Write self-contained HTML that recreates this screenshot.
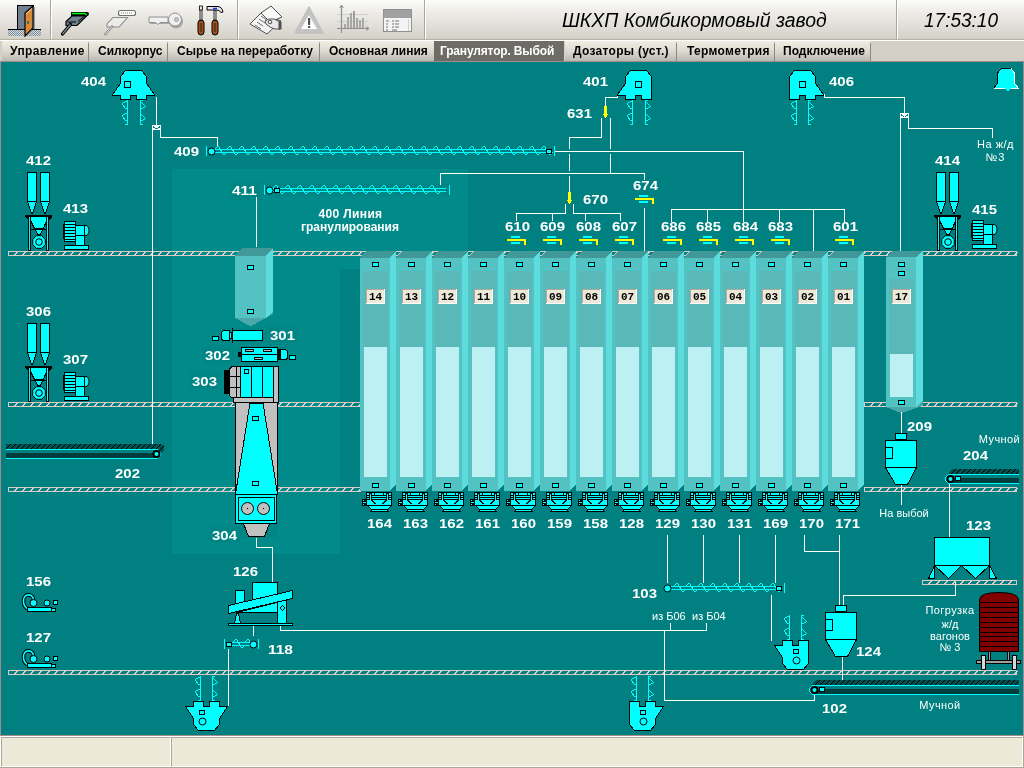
<!DOCTYPE html>
<html><head><meta charset="utf-8"><style>
html,body{margin:0;padding:0;width:1024px;height:768px;overflow:hidden;background:#d4d0c8;}
#tb{position:absolute;left:0;top:0;width:1024px;height:39px;background:linear-gradient(#fcfcfb,#f0efeb 25%,#d4d1c8);}
#tbl{position:absolute;left:0;top:39px;width:1024px;height:1px;background:#b6b2a6;}
#tbw{position:absolute;left:0;top:40px;width:1024px;height:1px;background:#fff;}
#tabs{position:absolute;left:0;top:41px;width:1024px;height:21px;background:#d4d0c8;}
.tab{position:absolute;top:41px;height:20px;background:linear-gradient(#f0eee2,#dddbd1 50%,#b9b8b1);font:bold 12px "Liberation Sans",sans-serif;color:#000;line-height:21px;white-space:nowrap;}
.tab.act{background:#6e6c66;color:#fff;}
.tsep{position:absolute;top:43px;width:1px;height:18px;background:#888884;}
#tbot{position:absolute;left:0;top:61px;width:1024px;height:1px;background:#9a8c8a;}
#sb{position:absolute;left:0;top:736px;width:1024px;height:32px;background:#fff;}
.sp{position:absolute;top:737px;height:30px;background:#ece9d8;border-top:1px solid #aca899;border-left:1px solid #aca899;border-bottom:1px solid #fff;border-right:1px solid #fff;box-sizing:border-box;}
#sbb{position:absolute;left:0;top:767px;width:1024px;height:1px;background:#aca899;}
#sbr{position:absolute;left:1023px;top:736px;width:1px;height:32px;background:#aca899;}
svg{position:absolute;left:0;top:0;will-change:transform;}
.tab span{will-change:transform;}
</style></head><body>
<div id="tb"></div><div id="tbl"></div><div id="tbw"></div>
<div id="tabs"></div>
<div class="tab" style="left:2px;width:86px"><span style="position:absolute;left:8px;letter-spacing:0.39px">Управление</span></div>
<div class="tab" style="left:89px;width:78px"><span style="position:absolute;left:9px;letter-spacing:0px">Силкорпус</span></div>
<div class="tab" style="left:168px;width:151px"><span style="position:absolute;left:9px;letter-spacing:0px">Сырье на переработку</span></div>
<div class="tab" style="left:320px;width:114px"><span style="position:absolute;left:9px;letter-spacing:0px">Основная линия</span></div>
<div class="tab act" style="left:434px;width:130px"><span style="position:absolute;left:5.5px;letter-spacing:-0.16px">Гранулятор. Выбой</span></div>
<div class="tab" style="left:565px;width:111px"><span style="position:absolute;left:7.5px;letter-spacing:0.29px">Дозаторы (уст.)</span></div>
<div class="tab" style="left:677px;width:97px"><span style="position:absolute;left:9.5px;letter-spacing:0.3px">Термометрия</span></div>
<div class="tab" style="left:775px;width:95px"><span style="position:absolute;left:8px;letter-spacing:0px">Подключение</span></div>
<div class="tsep" style="left:88px"></div>
<div class="tsep" style="left:167px"></div>
<div class="tsep" style="left:319px"></div>
<div class="tsep" style="left:676px"></div>
<div class="tsep" style="left:774px"></div>
<div class="tsep" style="left:870px"></div>
<div id="tbot"></div>
<div id="sb"></div>
<div class="sp" style="left:1px;width:170px"></div>
<div class="sp" style="left:171px;width:852px"></div>
<div id="sbb"></div><div id="sbr"></div>
<svg width="1024" height="768" viewBox="0 0 1024 768" shape-rendering="crispEdges">
<rect x="0" y="62" width="1024" height="674" fill="#008080" />
<rect x="0" y="62" width="1" height="674" fill="#a08c88" />
<rect x="1023" y="62" width="1" height="674" fill="#a08c88" />
<rect x="1" y="735" width="1022" height="1" fill="#a08c88" />
<rect x="172" y="169" width="168" height="385" fill="#008a89" />
<rect x="340" y="169" width="128" height="100" fill="#008a89" />
<rect x="227" y="179" width="36" height="22" fill="#008585" />
<rect x="227.5" y="179.5" width="35" height="21" fill="none" stroke="#008c8b" stroke-width="1"/>
<rect x="229.5" y="181.5" width="31" height="17" fill="none" stroke="#008c8b" stroke-width="1"/>
<rect x="265" y="324" width="35" height="22" fill="#008585" />
<rect x="265.5" y="324.5" width="34" height="21" fill="none" stroke="#008c8b" stroke-width="1"/>
<rect x="267.5" y="326.5" width="30" height="17" fill="none" stroke="#008c8b" stroke-width="1"/>
<rect x="201" y="344" width="36" height="22" fill="#008585" />
<rect x="201.5" y="344.5" width="35" height="21" fill="none" stroke="#008c8b" stroke-width="1"/>
<rect x="203.5" y="346.5" width="31" height="17" fill="none" stroke="#008c8b" stroke-width="1"/>
<rect x="187" y="370" width="36" height="22" fill="#008585" />
<rect x="187.5" y="370.5" width="35" height="21" fill="none" stroke="#008c8b" stroke-width="1"/>
<rect x="189.5" y="372.5" width="31" height="17" fill="none" stroke="#008c8b" stroke-width="1"/>
<rect x="207" y="524" width="36" height="22" fill="#008585" />
<rect x="207.5" y="524.5" width="35" height="21" fill="none" stroke="#008c8b" stroke-width="1"/>
<rect x="209.5" y="526.5" width="31" height="17" fill="none" stroke="#008c8b" stroke-width="1"/>
<rect x="263" y="184" width="188" height="12" fill="#008585" />
<rect x="220" y="328" width="44" height="15" fill="#008585" />
<rect x="237" y="346" width="52" height="17" fill="#008585" />
<rect x="234" y="524" width="43" height="14" fill="#008585" />
<rect x="8.5" y="251.5" width="1008" height="4" fill="none" stroke="#d8ccc4" stroke-width="1"/>
<path d="M14.5,255 L17.5,252 M22.5,255 L25.5,252 M30.5,255 L33.5,252 M38.5,255 L41.5,252 M46.5,255 L49.5,252 M54.5,255 L57.5,252 M62.5,255 L65.5,252 M70.5,255 L73.5,252 M78.5,255 L81.5,252 M86.5,255 L89.5,252 M94.5,255 L97.5,252 M102.5,255 L105.5,252 M110.5,255 L113.5,252 M118.5,255 L121.5,252 M126.5,255 L129.5,252 M134.5,255 L137.5,252 M142.5,255 L145.5,252 M150.5,255 L153.5,252 M158.5,255 L161.5,252 M166.5,255 L169.5,252 M174.5,255 L177.5,252 M182.5,255 L185.5,252 M190.5,255 L193.5,252 M198.5,255 L201.5,252 M206.5,255 L209.5,252 M214.5,255 L217.5,252 M222.5,255 L225.5,252 M230.5,255 L233.5,252 M238.5,255 L241.5,252 M246.5,255 L249.5,252 M254.5,255 L257.5,252 M262.5,255 L265.5,252 M270.5,255 L273.5,252 M278.5,255 L281.5,252 M286.5,255 L289.5,252 M294.5,255 L297.5,252 M302.5,255 L305.5,252 M310.5,255 L313.5,252 M318.5,255 L321.5,252 M326.5,255 L329.5,252 M334.5,255 L337.5,252 M342.5,255 L345.5,252 M350.5,255 L353.5,252 M358.5,255 L361.5,252 M366.5,255 L369.5,252 M374.5,255 L377.5,252 M382.5,255 L385.5,252 M390.5,255 L393.5,252 M398.5,255 L401.5,252 M406.5,255 L409.5,252 M414.5,255 L417.5,252 M422.5,255 L425.5,252 M430.5,255 L433.5,252 M438.5,255 L441.5,252 M446.5,255 L449.5,252 M454.5,255 L457.5,252 M462.5,255 L465.5,252 M470.5,255 L473.5,252 M478.5,255 L481.5,252 M486.5,255 L489.5,252 M494.5,255 L497.5,252 M502.5,255 L505.5,252 M510.5,255 L513.5,252 M518.5,255 L521.5,252 M526.5,255 L529.5,252 M534.5,255 L537.5,252 M542.5,255 L545.5,252 M550.5,255 L553.5,252 M558.5,255 L561.5,252 M566.5,255 L569.5,252 M574.5,255 L577.5,252 M582.5,255 L585.5,252 M590.5,255 L593.5,252 M598.5,255 L601.5,252 M606.5,255 L609.5,252 M614.5,255 L617.5,252 M622.5,255 L625.5,252 M630.5,255 L633.5,252 M638.5,255 L641.5,252 M646.5,255 L649.5,252 M654.5,255 L657.5,252 M662.5,255 L665.5,252 M670.5,255 L673.5,252 M678.5,255 L681.5,252 M686.5,255 L689.5,252 M694.5,255 L697.5,252 M702.5,255 L705.5,252 M710.5,255 L713.5,252 M718.5,255 L721.5,252 M726.5,255 L729.5,252 M734.5,255 L737.5,252 M742.5,255 L745.5,252 M750.5,255 L753.5,252 M758.5,255 L761.5,252 M766.5,255 L769.5,252 M774.5,255 L777.5,252 M782.5,255 L785.5,252 M790.5,255 L793.5,252 M798.5,255 L801.5,252 M806.5,255 L809.5,252 M814.5,255 L817.5,252 M822.5,255 L825.5,252 M830.5,255 L833.5,252 M838.5,255 L841.5,252 M846.5,255 L849.5,252 M854.5,255 L857.5,252 M862.5,255 L865.5,252 M870.5,255 L873.5,252 M878.5,255 L881.5,252 M886.5,255 L889.5,252 M894.5,255 L897.5,252 M902.5,255 L905.5,252 M910.5,255 L913.5,252 M918.5,255 L921.5,252 M926.5,255 L929.5,252 M934.5,255 L937.5,252 M942.5,255 L945.5,252 M950.5,255 L953.5,252 M958.5,255 L961.5,252 M966.5,255 L969.5,252 M974.5,255 L977.5,252 M982.5,255 L985.5,252 M990.5,255 L993.5,252 M998.5,255 L1001.5,252 M1006.5,255 L1009.5,252 M1014.5,255 L1017.5,252" stroke="#d8ccc4" stroke-width="1" fill="none"/>
<rect x="8.5" y="402.5" width="352" height="4" fill="none" stroke="#d8ccc4" stroke-width="1"/>
<path d="M14.5,406 L17.5,403 M22.5,406 L25.5,403 M30.5,406 L33.5,403 M38.5,406 L41.5,403 M46.5,406 L49.5,403 M54.5,406 L57.5,403 M62.5,406 L65.5,403 M70.5,406 L73.5,403 M78.5,406 L81.5,403 M86.5,406 L89.5,403 M94.5,406 L97.5,403 M102.5,406 L105.5,403 M110.5,406 L113.5,403 M118.5,406 L121.5,403 M126.5,406 L129.5,403 M134.5,406 L137.5,403 M142.5,406 L145.5,403 M150.5,406 L153.5,403 M158.5,406 L161.5,403 M166.5,406 L169.5,403 M174.5,406 L177.5,403 M182.5,406 L185.5,403 M190.5,406 L193.5,403 M198.5,406 L201.5,403 M206.5,406 L209.5,403 M214.5,406 L217.5,403 M222.5,406 L225.5,403 M230.5,406 L233.5,403 M238.5,406 L241.5,403 M246.5,406 L249.5,403 M254.5,406 L257.5,403 M262.5,406 L265.5,403 M270.5,406 L273.5,403 M278.5,406 L281.5,403 M286.5,406 L289.5,403 M294.5,406 L297.5,403 M302.5,406 L305.5,403 M310.5,406 L313.5,403 M318.5,406 L321.5,403 M326.5,406 L329.5,403 M334.5,406 L337.5,403 M342.5,406 L345.5,403 M350.5,406 L353.5,403 M358.5,406 L361.5,403" stroke="#d8ccc4" stroke-width="1" fill="none"/>
<rect x="864.5" y="402.5" width="152" height="4" fill="none" stroke="#d8ccc4" stroke-width="1"/>
<path d="M870.5,406 L873.5,403 M878.5,406 L881.5,403 M886.5,406 L889.5,403 M894.5,406 L897.5,403 M902.5,406 L905.5,403 M910.5,406 L913.5,403 M918.5,406 L921.5,403 M926.5,406 L929.5,403 M934.5,406 L937.5,403 M942.5,406 L945.5,403 M950.5,406 L953.5,403 M958.5,406 L961.5,403 M966.5,406 L969.5,403 M974.5,406 L977.5,403 M982.5,406 L985.5,403 M990.5,406 L993.5,403 M998.5,406 L1001.5,403 M1006.5,406 L1009.5,403 M1014.5,406 L1017.5,403" stroke="#d8ccc4" stroke-width="1" fill="none"/>
<rect x="8.5" y="487.5" width="352" height="4" fill="none" stroke="#d8ccc4" stroke-width="1"/>
<path d="M14.5,491 L17.5,488 M22.5,491 L25.5,488 M30.5,491 L33.5,488 M38.5,491 L41.5,488 M46.5,491 L49.5,488 M54.5,491 L57.5,488 M62.5,491 L65.5,488 M70.5,491 L73.5,488 M78.5,491 L81.5,488 M86.5,491 L89.5,488 M94.5,491 L97.5,488 M102.5,491 L105.5,488 M110.5,491 L113.5,488 M118.5,491 L121.5,488 M126.5,491 L129.5,488 M134.5,491 L137.5,488 M142.5,491 L145.5,488 M150.5,491 L153.5,488 M158.5,491 L161.5,488 M166.5,491 L169.5,488 M174.5,491 L177.5,488 M182.5,491 L185.5,488 M190.5,491 L193.5,488 M198.5,491 L201.5,488 M206.5,491 L209.5,488 M214.5,491 L217.5,488 M222.5,491 L225.5,488 M230.5,491 L233.5,488 M238.5,491 L241.5,488 M246.5,491 L249.5,488 M254.5,491 L257.5,488 M262.5,491 L265.5,488 M270.5,491 L273.5,488 M278.5,491 L281.5,488 M286.5,491 L289.5,488 M294.5,491 L297.5,488 M302.5,491 L305.5,488 M310.5,491 L313.5,488 M318.5,491 L321.5,488 M326.5,491 L329.5,488 M334.5,491 L337.5,488 M342.5,491 L345.5,488 M350.5,491 L353.5,488 M358.5,491 L361.5,488" stroke="#d8ccc4" stroke-width="1" fill="none"/>
<rect x="864.5" y="487.5" width="152" height="4" fill="none" stroke="#d8ccc4" stroke-width="1"/>
<path d="M870.5,491 L873.5,488 M878.5,491 L881.5,488 M886.5,491 L889.5,488 M894.5,491 L897.5,488 M902.5,491 L905.5,488 M910.5,491 L913.5,488 M918.5,491 L921.5,488 M926.5,491 L929.5,488 M934.5,491 L937.5,488 M942.5,491 L945.5,488 M950.5,491 L953.5,488 M958.5,491 L961.5,488 M966.5,491 L969.5,488 M974.5,491 L977.5,488 M982.5,491 L985.5,488 M990.5,491 L993.5,488 M998.5,491 L1001.5,488 M1006.5,491 L1009.5,488 M1014.5,491 L1017.5,488" stroke="#d8ccc4" stroke-width="1" fill="none"/>
<rect x="8.5" y="670.5" width="1008" height="4" fill="none" stroke="#d8ccc4" stroke-width="1"/>
<path d="M14.5,674 L17.5,671 M22.5,674 L25.5,671 M30.5,674 L33.5,671 M38.5,674 L41.5,671 M46.5,674 L49.5,671 M54.5,674 L57.5,671 M62.5,674 L65.5,671 M70.5,674 L73.5,671 M78.5,674 L81.5,671 M86.5,674 L89.5,671 M94.5,674 L97.5,671 M102.5,674 L105.5,671 M110.5,674 L113.5,671 M118.5,674 L121.5,671 M126.5,674 L129.5,671 M134.5,674 L137.5,671 M142.5,674 L145.5,671 M150.5,674 L153.5,671 M158.5,674 L161.5,671 M166.5,674 L169.5,671 M174.5,674 L177.5,671 M182.5,674 L185.5,671 M190.5,674 L193.5,671 M198.5,674 L201.5,671 M206.5,674 L209.5,671 M214.5,674 L217.5,671 M222.5,674 L225.5,671 M230.5,674 L233.5,671 M238.5,674 L241.5,671 M246.5,674 L249.5,671 M254.5,674 L257.5,671 M262.5,674 L265.5,671 M270.5,674 L273.5,671 M278.5,674 L281.5,671 M286.5,674 L289.5,671 M294.5,674 L297.5,671 M302.5,674 L305.5,671 M310.5,674 L313.5,671 M318.5,674 L321.5,671 M326.5,674 L329.5,671 M334.5,674 L337.5,671 M342.5,674 L345.5,671 M350.5,674 L353.5,671 M358.5,674 L361.5,671 M366.5,674 L369.5,671 M374.5,674 L377.5,671 M382.5,674 L385.5,671 M390.5,674 L393.5,671 M398.5,674 L401.5,671 M406.5,674 L409.5,671 M414.5,674 L417.5,671 M422.5,674 L425.5,671 M430.5,674 L433.5,671 M438.5,674 L441.5,671 M446.5,674 L449.5,671 M454.5,674 L457.5,671 M462.5,674 L465.5,671 M470.5,674 L473.5,671 M478.5,674 L481.5,671 M486.5,674 L489.5,671 M494.5,674 L497.5,671 M502.5,674 L505.5,671 M510.5,674 L513.5,671 M518.5,674 L521.5,671 M526.5,674 L529.5,671 M534.5,674 L537.5,671 M542.5,674 L545.5,671 M550.5,674 L553.5,671 M558.5,674 L561.5,671 M566.5,674 L569.5,671 M574.5,674 L577.5,671 M582.5,674 L585.5,671 M590.5,674 L593.5,671 M598.5,674 L601.5,671 M606.5,674 L609.5,671 M614.5,674 L617.5,671 M622.5,674 L625.5,671 M630.5,674 L633.5,671 M638.5,674 L641.5,671 M646.5,674 L649.5,671 M654.5,674 L657.5,671 M662.5,674 L665.5,671 M670.5,674 L673.5,671 M678.5,674 L681.5,671 M686.5,674 L689.5,671 M694.5,674 L697.5,671 M702.5,674 L705.5,671 M710.5,674 L713.5,671 M718.5,674 L721.5,671 M726.5,674 L729.5,671 M734.5,674 L737.5,671 M742.5,674 L745.5,671 M750.5,674 L753.5,671 M758.5,674 L761.5,671 M766.5,674 L769.5,671 M774.5,674 L777.5,671 M782.5,674 L785.5,671 M790.5,674 L793.5,671 M798.5,674 L801.5,671 M806.5,674 L809.5,671 M814.5,674 L817.5,671 M822.5,674 L825.5,671 M830.5,674 L833.5,671 M838.5,674 L841.5,671 M846.5,674 L849.5,671 M854.5,674 L857.5,671 M862.5,674 L865.5,671 M870.5,674 L873.5,671 M878.5,674 L881.5,671 M886.5,674 L889.5,671 M894.5,674 L897.5,671 M902.5,674 L905.5,671 M910.5,674 L913.5,671 M918.5,674 L921.5,671 M926.5,674 L929.5,671 M934.5,674 L937.5,671 M942.5,674 L945.5,671 M950.5,674 L953.5,671 M958.5,674 L961.5,671 M966.5,674 L969.5,671 M974.5,674 L977.5,671 M982.5,674 L985.5,671 M990.5,674 L993.5,671 M998.5,674 L1001.5,671 M1006.5,674 L1009.5,671 M1014.5,674 L1017.5,671" stroke="#d8ccc4" stroke-width="1" fill="none"/>
<rect x="922.5" y="580.5" width="94" height="4" fill="none" stroke="#d8ccc4" stroke-width="1"/>
<path d="M928.5,584 L931.5,581 M936.5,584 L939.5,581 M944.5,584 L947.5,581 M952.5,584 L955.5,581 M960.5,584 L963.5,581 M968.5,584 L971.5,581 M976.5,584 L979.5,581 M984.5,584 L987.5,581 M992.5,584 L995.5,581 M1000.5,584 L1003.5,581 M1008.5,584 L1011.5,581" stroke="#d8ccc4" stroke-width="1" fill="none"/>
<polygon points="360,258 366,251 396,251 390,258" fill="#409898" />
<rect x="360" y="258" width="30" height="233" fill="#52c2c2" />
<polygon points="390,258 396,251 396,484 390,491" fill="#5cdcdc" />
<rect x="363" y="271" width="25" height="76" fill="#5ab8b8" />
<rect x="364" y="347" width="23" height="130" fill="#bcf0f2" />
<rect x="372.5" y="262.5" width="6" height="4" fill="#00ffff" stroke="#000000" stroke-width="1"/>
<rect x="372.5" y="483.5" width="6" height="4" fill="#00ffff" stroke="#000000" stroke-width="1"/>
<rect x="366" y="289" width="19" height="15" fill="#ece9d8" />
<rect x="366" y="289" width="19" height="1" fill="#b4a898" />
<rect x="366" y="289" width="1" height="15" fill="#b4a898" />
<rect x="366" y="303" width="19" height="1" fill="#ffffff" />
<rect x="384" y="289" width="1" height="15" fill="#ffffff" />
<text x="375.5" y="300" font-family="Liberation Mono" font-size="11" font-weight="bold" fill="#000000" text-anchor="middle" >14</text>
<polygon points="396,258 402,251 432,251 426,258" fill="#409898" />
<rect x="396" y="258" width="30" height="233" fill="#52c2c2" />
<polygon points="426,258 432,251 432,484 426,491" fill="#5cdcdc" />
<rect x="399" y="271" width="25" height="76" fill="#5ab8b8" />
<rect x="400" y="347" width="23" height="130" fill="#bcf0f2" />
<rect x="408.5" y="262.5" width="6" height="4" fill="#00ffff" stroke="#000000" stroke-width="1"/>
<rect x="408.5" y="483.5" width="6" height="4" fill="#00ffff" stroke="#000000" stroke-width="1"/>
<rect x="402" y="289" width="19" height="15" fill="#ece9d8" />
<rect x="402" y="289" width="19" height="1" fill="#b4a898" />
<rect x="402" y="289" width="1" height="15" fill="#b4a898" />
<rect x="402" y="303" width="19" height="1" fill="#ffffff" />
<rect x="420" y="289" width="1" height="15" fill="#ffffff" />
<text x="411.5" y="300" font-family="Liberation Mono" font-size="11" font-weight="bold" fill="#000000" text-anchor="middle" >13</text>
<polygon points="432,258 438,251 468,251 462,258" fill="#409898" />
<rect x="432" y="258" width="30" height="233" fill="#52c2c2" />
<polygon points="462,258 468,251 468,484 462,491" fill="#5cdcdc" />
<rect x="435" y="271" width="25" height="76" fill="#5ab8b8" />
<rect x="436" y="347" width="23" height="130" fill="#bcf0f2" />
<rect x="444.5" y="262.5" width="6" height="4" fill="#00ffff" stroke="#000000" stroke-width="1"/>
<rect x="444.5" y="483.5" width="6" height="4" fill="#00ffff" stroke="#000000" stroke-width="1"/>
<rect x="438" y="289" width="19" height="15" fill="#ece9d8" />
<rect x="438" y="289" width="19" height="1" fill="#b4a898" />
<rect x="438" y="289" width="1" height="15" fill="#b4a898" />
<rect x="438" y="303" width="19" height="1" fill="#ffffff" />
<rect x="456" y="289" width="1" height="15" fill="#ffffff" />
<text x="447.5" y="300" font-family="Liberation Mono" font-size="11" font-weight="bold" fill="#000000" text-anchor="middle" >12</text>
<polygon points="468,258 474,251 504,251 498,258" fill="#409898" />
<rect x="468" y="258" width="30" height="233" fill="#52c2c2" />
<polygon points="498,258 504,251 504,484 498,491" fill="#5cdcdc" />
<rect x="471" y="271" width="25" height="76" fill="#5ab8b8" />
<rect x="472" y="347" width="23" height="130" fill="#bcf0f2" />
<rect x="480.5" y="262.5" width="6" height="4" fill="#00ffff" stroke="#000000" stroke-width="1"/>
<rect x="480.5" y="483.5" width="6" height="4" fill="#00ffff" stroke="#000000" stroke-width="1"/>
<rect x="474" y="289" width="19" height="15" fill="#ece9d8" />
<rect x="474" y="289" width="19" height="1" fill="#b4a898" />
<rect x="474" y="289" width="1" height="15" fill="#b4a898" />
<rect x="474" y="303" width="19" height="1" fill="#ffffff" />
<rect x="492" y="289" width="1" height="15" fill="#ffffff" />
<text x="483.5" y="300" font-family="Liberation Mono" font-size="11" font-weight="bold" fill="#000000" text-anchor="middle" >11</text>
<polygon points="504,258 510,251 540,251 534,258" fill="#409898" />
<rect x="504" y="258" width="30" height="233" fill="#52c2c2" />
<polygon points="534,258 540,251 540,484 534,491" fill="#5cdcdc" />
<rect x="507" y="271" width="25" height="76" fill="#5ab8b8" />
<rect x="508" y="347" width="23" height="130" fill="#bcf0f2" />
<rect x="516.5" y="262.5" width="6" height="4" fill="#00ffff" stroke="#000000" stroke-width="1"/>
<rect x="516.5" y="483.5" width="6" height="4" fill="#00ffff" stroke="#000000" stroke-width="1"/>
<rect x="510" y="289" width="19" height="15" fill="#ece9d8" />
<rect x="510" y="289" width="19" height="1" fill="#b4a898" />
<rect x="510" y="289" width="1" height="15" fill="#b4a898" />
<rect x="510" y="303" width="19" height="1" fill="#ffffff" />
<rect x="528" y="289" width="1" height="15" fill="#ffffff" />
<text x="519.5" y="300" font-family="Liberation Mono" font-size="11" font-weight="bold" fill="#000000" text-anchor="middle" >10</text>
<polygon points="540,258 546,251 576,251 570,258" fill="#409898" />
<rect x="540" y="258" width="30" height="233" fill="#52c2c2" />
<polygon points="570,258 576,251 576,484 570,491" fill="#5cdcdc" />
<rect x="543" y="271" width="25" height="76" fill="#5ab8b8" />
<rect x="544" y="347" width="23" height="130" fill="#bcf0f2" />
<rect x="552.5" y="262.5" width="6" height="4" fill="#00ffff" stroke="#000000" stroke-width="1"/>
<rect x="552.5" y="483.5" width="6" height="4" fill="#00ffff" stroke="#000000" stroke-width="1"/>
<rect x="546" y="289" width="19" height="15" fill="#ece9d8" />
<rect x="546" y="289" width="19" height="1" fill="#b4a898" />
<rect x="546" y="289" width="1" height="15" fill="#b4a898" />
<rect x="546" y="303" width="19" height="1" fill="#ffffff" />
<rect x="564" y="289" width="1" height="15" fill="#ffffff" />
<text x="555.5" y="300" font-family="Liberation Mono" font-size="11" font-weight="bold" fill="#000000" text-anchor="middle" >09</text>
<polygon points="576,258 582,251 612,251 606,258" fill="#409898" />
<rect x="576" y="258" width="30" height="233" fill="#52c2c2" />
<polygon points="606,258 612,251 612,484 606,491" fill="#5cdcdc" />
<rect x="579" y="271" width="25" height="76" fill="#5ab8b8" />
<rect x="580" y="347" width="23" height="130" fill="#bcf0f2" />
<rect x="588.5" y="262.5" width="6" height="4" fill="#00ffff" stroke="#000000" stroke-width="1"/>
<rect x="588.5" y="483.5" width="6" height="4" fill="#00ffff" stroke="#000000" stroke-width="1"/>
<rect x="582" y="289" width="19" height="15" fill="#ece9d8" />
<rect x="582" y="289" width="19" height="1" fill="#b4a898" />
<rect x="582" y="289" width="1" height="15" fill="#b4a898" />
<rect x="582" y="303" width="19" height="1" fill="#ffffff" />
<rect x="600" y="289" width="1" height="15" fill="#ffffff" />
<text x="591.5" y="300" font-family="Liberation Mono" font-size="11" font-weight="bold" fill="#000000" text-anchor="middle" >08</text>
<polygon points="612,258 618,251 648,251 642,258" fill="#409898" />
<rect x="612" y="258" width="30" height="233" fill="#52c2c2" />
<polygon points="642,258 648,251 648,484 642,491" fill="#5cdcdc" />
<rect x="615" y="271" width="25" height="76" fill="#5ab8b8" />
<rect x="616" y="347" width="23" height="130" fill="#bcf0f2" />
<rect x="624.5" y="262.5" width="6" height="4" fill="#00ffff" stroke="#000000" stroke-width="1"/>
<rect x="624.5" y="483.5" width="6" height="4" fill="#00ffff" stroke="#000000" stroke-width="1"/>
<rect x="618" y="289" width="19" height="15" fill="#ece9d8" />
<rect x="618" y="289" width="19" height="1" fill="#b4a898" />
<rect x="618" y="289" width="1" height="15" fill="#b4a898" />
<rect x="618" y="303" width="19" height="1" fill="#ffffff" />
<rect x="636" y="289" width="1" height="15" fill="#ffffff" />
<text x="627.5" y="300" font-family="Liberation Mono" font-size="11" font-weight="bold" fill="#000000" text-anchor="middle" >07</text>
<polygon points="648,258 654,251 684,251 678,258" fill="#409898" />
<rect x="648" y="258" width="30" height="233" fill="#52c2c2" />
<polygon points="678,258 684,251 684,484 678,491" fill="#5cdcdc" />
<rect x="651" y="271" width="25" height="76" fill="#5ab8b8" />
<rect x="652" y="347" width="23" height="130" fill="#bcf0f2" />
<rect x="660.5" y="262.5" width="6" height="4" fill="#00ffff" stroke="#000000" stroke-width="1"/>
<rect x="660.5" y="483.5" width="6" height="4" fill="#00ffff" stroke="#000000" stroke-width="1"/>
<rect x="654" y="289" width="19" height="15" fill="#ece9d8" />
<rect x="654" y="289" width="19" height="1" fill="#b4a898" />
<rect x="654" y="289" width="1" height="15" fill="#b4a898" />
<rect x="654" y="303" width="19" height="1" fill="#ffffff" />
<rect x="672" y="289" width="1" height="15" fill="#ffffff" />
<text x="663.5" y="300" font-family="Liberation Mono" font-size="11" font-weight="bold" fill="#000000" text-anchor="middle" >06</text>
<polygon points="684,258 690,251 720,251 714,258" fill="#409898" />
<rect x="684" y="258" width="30" height="233" fill="#52c2c2" />
<polygon points="714,258 720,251 720,484 714,491" fill="#5cdcdc" />
<rect x="687" y="271" width="25" height="76" fill="#5ab8b8" />
<rect x="688" y="347" width="23" height="130" fill="#bcf0f2" />
<rect x="696.5" y="262.5" width="6" height="4" fill="#00ffff" stroke="#000000" stroke-width="1"/>
<rect x="696.5" y="483.5" width="6" height="4" fill="#00ffff" stroke="#000000" stroke-width="1"/>
<rect x="690" y="289" width="19" height="15" fill="#ece9d8" />
<rect x="690" y="289" width="19" height="1" fill="#b4a898" />
<rect x="690" y="289" width="1" height="15" fill="#b4a898" />
<rect x="690" y="303" width="19" height="1" fill="#ffffff" />
<rect x="708" y="289" width="1" height="15" fill="#ffffff" />
<text x="699.5" y="300" font-family="Liberation Mono" font-size="11" font-weight="bold" fill="#000000" text-anchor="middle" >05</text>
<polygon points="720,258 726,251 756,251 750,258" fill="#409898" />
<rect x="720" y="258" width="30" height="233" fill="#52c2c2" />
<polygon points="750,258 756,251 756,484 750,491" fill="#5cdcdc" />
<rect x="723" y="271" width="25" height="76" fill="#5ab8b8" />
<rect x="724" y="347" width="23" height="130" fill="#bcf0f2" />
<rect x="732.5" y="262.5" width="6" height="4" fill="#00ffff" stroke="#000000" stroke-width="1"/>
<rect x="732.5" y="483.5" width="6" height="4" fill="#00ffff" stroke="#000000" stroke-width="1"/>
<rect x="726" y="289" width="19" height="15" fill="#ece9d8" />
<rect x="726" y="289" width="19" height="1" fill="#b4a898" />
<rect x="726" y="289" width="1" height="15" fill="#b4a898" />
<rect x="726" y="303" width="19" height="1" fill="#ffffff" />
<rect x="744" y="289" width="1" height="15" fill="#ffffff" />
<text x="735.5" y="300" font-family="Liberation Mono" font-size="11" font-weight="bold" fill="#000000" text-anchor="middle" >04</text>
<polygon points="756,258 762,251 792,251 786,258" fill="#409898" />
<rect x="756" y="258" width="30" height="233" fill="#52c2c2" />
<polygon points="786,258 792,251 792,484 786,491" fill="#5cdcdc" />
<rect x="759" y="271" width="25" height="76" fill="#5ab8b8" />
<rect x="760" y="347" width="23" height="130" fill="#bcf0f2" />
<rect x="768.5" y="262.5" width="6" height="4" fill="#00ffff" stroke="#000000" stroke-width="1"/>
<rect x="768.5" y="483.5" width="6" height="4" fill="#00ffff" stroke="#000000" stroke-width="1"/>
<rect x="762" y="289" width="19" height="15" fill="#ece9d8" />
<rect x="762" y="289" width="19" height="1" fill="#b4a898" />
<rect x="762" y="289" width="1" height="15" fill="#b4a898" />
<rect x="762" y="303" width="19" height="1" fill="#ffffff" />
<rect x="780" y="289" width="1" height="15" fill="#ffffff" />
<text x="771.5" y="300" font-family="Liberation Mono" font-size="11" font-weight="bold" fill="#000000" text-anchor="middle" >03</text>
<polygon points="792,258 798,251 828,251 822,258" fill="#409898" />
<rect x="792" y="258" width="30" height="233" fill="#52c2c2" />
<polygon points="822,258 828,251 828,484 822,491" fill="#5cdcdc" />
<rect x="795" y="271" width="25" height="76" fill="#5ab8b8" />
<rect x="796" y="347" width="23" height="130" fill="#bcf0f2" />
<rect x="804.5" y="262.5" width="6" height="4" fill="#00ffff" stroke="#000000" stroke-width="1"/>
<rect x="804.5" y="483.5" width="6" height="4" fill="#00ffff" stroke="#000000" stroke-width="1"/>
<rect x="798" y="289" width="19" height="15" fill="#ece9d8" />
<rect x="798" y="289" width="19" height="1" fill="#b4a898" />
<rect x="798" y="289" width="1" height="15" fill="#b4a898" />
<rect x="798" y="303" width="19" height="1" fill="#ffffff" />
<rect x="816" y="289" width="1" height="15" fill="#ffffff" />
<text x="807.5" y="300" font-family="Liberation Mono" font-size="11" font-weight="bold" fill="#000000" text-anchor="middle" >02</text>
<polygon points="828,258 834,251 864,251 858,258" fill="#409898" />
<rect x="828" y="258" width="30" height="233" fill="#52c2c2" />
<polygon points="858,258 864,251 864,484 858,491" fill="#5cdcdc" />
<rect x="831" y="271" width="25" height="76" fill="#5ab8b8" />
<rect x="832" y="347" width="23" height="130" fill="#bcf0f2" />
<rect x="840.5" y="262.5" width="6" height="4" fill="#00ffff" stroke="#000000" stroke-width="1"/>
<rect x="840.5" y="483.5" width="6" height="4" fill="#00ffff" stroke="#000000" stroke-width="1"/>
<rect x="834" y="289" width="19" height="15" fill="#ece9d8" />
<rect x="834" y="289" width="19" height="1" fill="#b4a898" />
<rect x="834" y="289" width="1" height="15" fill="#b4a898" />
<rect x="834" y="303" width="19" height="1" fill="#ffffff" />
<rect x="852" y="289" width="1" height="15" fill="#ffffff" />
<text x="843.5" y="300" font-family="Liberation Mono" font-size="11" font-weight="bold" fill="#000000" text-anchor="middle" >01</text>
<polygon points="886,257 892,251 923,251 916,257" fill="#409898" />
<rect x="886" y="257" width="30" height="150" fill="#52c2c2" />
<polygon points="916,257 923,251 923,400 916,407" fill="#5cdcdc" />
<polygon points="886,407 916,407 923,400 923,406 901,413" fill="#4aa8a8" />
<rect x="889" y="279" width="25" height="75" fill="#5ab8b8" />
<rect x="890" y="354" width="23" height="43" fill="#bcf0f2" />
<rect x="898.5" y="262.5" width="6" height="4" fill="#00ffff" stroke="#000000" stroke-width="1"/>
<rect x="898.5" y="271.5" width="6" height="4" fill="#00ffff" stroke="#000000" stroke-width="1"/>
<rect x="898.5" y="400.5" width="6" height="4" fill="#00ffff" stroke="#000000" stroke-width="1"/>
<rect x="892" y="289" width="19" height="15" fill="#ece9d8" />
<rect x="892" y="289" width="19" height="1" fill="#b4a898" />
<rect x="892" y="289" width="1" height="15" fill="#b4a898" />
<rect x="892" y="303" width="19" height="1" fill="#ffffff" />
<rect x="910" y="289" width="1" height="15" fill="#ffffff" />
<text x="901.5" y="300" font-family="Liberation Mono" font-size="11" font-weight="bold" fill="#000000" text-anchor="middle" >17</text>
<g transform="translate(360,490)"><rect x="6" y="2" width="26" height="14" fill="#000"/><rect x="7" y="3" width="2" height="2" fill="#00ffff"/><rect x="12" y="3" width="2" height="2" fill="#00ffff"/><rect x="15" y="3" width="8" height="2" fill="#00ffff"/><rect x="24" y="3" width="2" height="2" fill="#00ffff"/><rect x="29" y="3" width="2" height="2" fill="#00ffff"/><rect x="12" y="6" width="14" height="1" fill="#00ffff"/><rect x="7" y="6" width="2" height="1" fill="#00ffff"/><rect x="29" y="6" width="2" height="1" fill="#00ffff"/><rect x="12" y="8" width="14" height="1" fill="#00ffff"/><rect x="7" y="8" width="2" height="1" fill="#00ffff"/><rect x="29" y="8" width="2" height="1" fill="#00ffff"/><rect x="10" y="4" width="1" height="6" fill="#00ffff"/><rect x="27" y="4" width="1" height="6" fill="#00ffff"/><rect x="7" y="10" width="24" height="5" fill="#00ffff"/><rect x="11" y="10" width="1" height="1" fill="#000"/><rect x="12" y="10" width="1" height="1" fill="#000"/><rect x="12" y="11" width="1" height="1" fill="#000"/><rect x="13" y="11" width="1" height="1" fill="#000"/><rect x="13" y="12" width="1" height="1" fill="#000"/><rect x="14" y="12" width="1" height="1" fill="#000"/><rect x="14" y="13" width="1" height="1" fill="#000"/><rect x="15" y="13" width="1" height="1" fill="#000"/><rect x="26" y="10" width="1" height="1" fill="#000"/><rect x="25" y="10" width="1" height="1" fill="#000"/><rect x="25" y="11" width="1" height="1" fill="#000"/><rect x="24" y="11" width="1" height="1" fill="#000"/><rect x="24" y="12" width="1" height="1" fill="#000"/><rect x="23" y="12" width="1" height="1" fill="#000"/><rect x="23" y="13" width="1" height="1" fill="#000"/><rect x="22" y="13" width="1" height="1" fill="#000"/><rect x="8" y="16" width="23" height="1" fill="#000"/><rect x="9" y="16" width="21" height="1" fill="#00ffff"/><rect x="9" y="17" width="21" height="1" fill="#000"/><rect x="10" y="17" width="19" height="1" fill="#00ffff"/><rect x="10" y="18" width="19" height="1" fill="#000"/><rect x="11" y="18" width="17" height="1" fill="#00ffff"/><rect x="11" y="19" width="17" height="1" fill="#000"/><rect x="11" y="20" width="17" height="1" fill="#000"/><rect x="12" y="20" width="15" height="1" fill="#00ffff"/><rect x="10" y="21" width="19" height="1" fill="#000"/><rect x="2" y="9" width="4" height="7" fill="#000"/><rect x="3" y="10" width="1" height="1" fill="#00ffff"/><rect x="3" y="14" width="1" height="1" fill="#00ffff"/><rect x="3" y="12" width="3" height="1" fill="#00ffff"/></g>
<text x="379.5" y="528" font-family="Liberation Sans" font-size="13" font-weight="bold" fill="#ffffff" text-anchor="middle" textLength="25.0" lengthAdjust="spacingAndGlyphs">164</text>
<g transform="translate(396,490)"><rect x="6" y="2" width="26" height="14" fill="#000"/><rect x="7" y="3" width="2" height="2" fill="#00ffff"/><rect x="12" y="3" width="2" height="2" fill="#00ffff"/><rect x="15" y="3" width="8" height="2" fill="#00ffff"/><rect x="24" y="3" width="2" height="2" fill="#00ffff"/><rect x="29" y="3" width="2" height="2" fill="#00ffff"/><rect x="12" y="6" width="14" height="1" fill="#00ffff"/><rect x="7" y="6" width="2" height="1" fill="#00ffff"/><rect x="29" y="6" width="2" height="1" fill="#00ffff"/><rect x="12" y="8" width="14" height="1" fill="#00ffff"/><rect x="7" y="8" width="2" height="1" fill="#00ffff"/><rect x="29" y="8" width="2" height="1" fill="#00ffff"/><rect x="10" y="4" width="1" height="6" fill="#00ffff"/><rect x="27" y="4" width="1" height="6" fill="#00ffff"/><rect x="7" y="10" width="24" height="5" fill="#00ffff"/><rect x="11" y="10" width="1" height="1" fill="#000"/><rect x="12" y="10" width="1" height="1" fill="#000"/><rect x="12" y="11" width="1" height="1" fill="#000"/><rect x="13" y="11" width="1" height="1" fill="#000"/><rect x="13" y="12" width="1" height="1" fill="#000"/><rect x="14" y="12" width="1" height="1" fill="#000"/><rect x="14" y="13" width="1" height="1" fill="#000"/><rect x="15" y="13" width="1" height="1" fill="#000"/><rect x="26" y="10" width="1" height="1" fill="#000"/><rect x="25" y="10" width="1" height="1" fill="#000"/><rect x="25" y="11" width="1" height="1" fill="#000"/><rect x="24" y="11" width="1" height="1" fill="#000"/><rect x="24" y="12" width="1" height="1" fill="#000"/><rect x="23" y="12" width="1" height="1" fill="#000"/><rect x="23" y="13" width="1" height="1" fill="#000"/><rect x="22" y="13" width="1" height="1" fill="#000"/><rect x="8" y="16" width="23" height="1" fill="#000"/><rect x="9" y="16" width="21" height="1" fill="#00ffff"/><rect x="9" y="17" width="21" height="1" fill="#000"/><rect x="10" y="17" width="19" height="1" fill="#00ffff"/><rect x="10" y="18" width="19" height="1" fill="#000"/><rect x="11" y="18" width="17" height="1" fill="#00ffff"/><rect x="11" y="19" width="17" height="1" fill="#000"/><rect x="11" y="20" width="17" height="1" fill="#000"/><rect x="12" y="20" width="15" height="1" fill="#00ffff"/><rect x="10" y="21" width="19" height="1" fill="#000"/><rect x="2" y="9" width="4" height="7" fill="#000"/><rect x="3" y="10" width="1" height="1" fill="#00ffff"/><rect x="3" y="14" width="1" height="1" fill="#00ffff"/><rect x="3" y="12" width="3" height="1" fill="#00ffff"/></g>
<text x="415.5" y="528" font-family="Liberation Sans" font-size="13" font-weight="bold" fill="#ffffff" text-anchor="middle" textLength="25.0" lengthAdjust="spacingAndGlyphs">163</text>
<g transform="translate(432,490)"><rect x="6" y="2" width="26" height="14" fill="#000"/><rect x="7" y="3" width="2" height="2" fill="#00ffff"/><rect x="12" y="3" width="2" height="2" fill="#00ffff"/><rect x="15" y="3" width="8" height="2" fill="#00ffff"/><rect x="24" y="3" width="2" height="2" fill="#00ffff"/><rect x="29" y="3" width="2" height="2" fill="#00ffff"/><rect x="12" y="6" width="14" height="1" fill="#00ffff"/><rect x="7" y="6" width="2" height="1" fill="#00ffff"/><rect x="29" y="6" width="2" height="1" fill="#00ffff"/><rect x="12" y="8" width="14" height="1" fill="#00ffff"/><rect x="7" y="8" width="2" height="1" fill="#00ffff"/><rect x="29" y="8" width="2" height="1" fill="#00ffff"/><rect x="10" y="4" width="1" height="6" fill="#00ffff"/><rect x="27" y="4" width="1" height="6" fill="#00ffff"/><rect x="7" y="10" width="24" height="5" fill="#00ffff"/><rect x="11" y="10" width="1" height="1" fill="#000"/><rect x="12" y="10" width="1" height="1" fill="#000"/><rect x="12" y="11" width="1" height="1" fill="#000"/><rect x="13" y="11" width="1" height="1" fill="#000"/><rect x="13" y="12" width="1" height="1" fill="#000"/><rect x="14" y="12" width="1" height="1" fill="#000"/><rect x="14" y="13" width="1" height="1" fill="#000"/><rect x="15" y="13" width="1" height="1" fill="#000"/><rect x="26" y="10" width="1" height="1" fill="#000"/><rect x="25" y="10" width="1" height="1" fill="#000"/><rect x="25" y="11" width="1" height="1" fill="#000"/><rect x="24" y="11" width="1" height="1" fill="#000"/><rect x="24" y="12" width="1" height="1" fill="#000"/><rect x="23" y="12" width="1" height="1" fill="#000"/><rect x="23" y="13" width="1" height="1" fill="#000"/><rect x="22" y="13" width="1" height="1" fill="#000"/><rect x="8" y="16" width="23" height="1" fill="#000"/><rect x="9" y="16" width="21" height="1" fill="#00ffff"/><rect x="9" y="17" width="21" height="1" fill="#000"/><rect x="10" y="17" width="19" height="1" fill="#00ffff"/><rect x="10" y="18" width="19" height="1" fill="#000"/><rect x="11" y="18" width="17" height="1" fill="#00ffff"/><rect x="11" y="19" width="17" height="1" fill="#000"/><rect x="11" y="20" width="17" height="1" fill="#000"/><rect x="12" y="20" width="15" height="1" fill="#00ffff"/><rect x="10" y="21" width="19" height="1" fill="#000"/><rect x="2" y="9" width="4" height="7" fill="#000"/><rect x="3" y="10" width="1" height="1" fill="#00ffff"/><rect x="3" y="14" width="1" height="1" fill="#00ffff"/><rect x="3" y="12" width="3" height="1" fill="#00ffff"/></g>
<text x="451.5" y="528" font-family="Liberation Sans" font-size="13" font-weight="bold" fill="#ffffff" text-anchor="middle" textLength="25.0" lengthAdjust="spacingAndGlyphs">162</text>
<g transform="translate(468,490)"><rect x="6" y="2" width="26" height="14" fill="#000"/><rect x="7" y="3" width="2" height="2" fill="#00ffff"/><rect x="12" y="3" width="2" height="2" fill="#00ffff"/><rect x="15" y="3" width="8" height="2" fill="#00ffff"/><rect x="24" y="3" width="2" height="2" fill="#00ffff"/><rect x="29" y="3" width="2" height="2" fill="#00ffff"/><rect x="12" y="6" width="14" height="1" fill="#00ffff"/><rect x="7" y="6" width="2" height="1" fill="#00ffff"/><rect x="29" y="6" width="2" height="1" fill="#00ffff"/><rect x="12" y="8" width="14" height="1" fill="#00ffff"/><rect x="7" y="8" width="2" height="1" fill="#00ffff"/><rect x="29" y="8" width="2" height="1" fill="#00ffff"/><rect x="10" y="4" width="1" height="6" fill="#00ffff"/><rect x="27" y="4" width="1" height="6" fill="#00ffff"/><rect x="7" y="10" width="24" height="5" fill="#00ffff"/><rect x="11" y="10" width="1" height="1" fill="#000"/><rect x="12" y="10" width="1" height="1" fill="#000"/><rect x="12" y="11" width="1" height="1" fill="#000"/><rect x="13" y="11" width="1" height="1" fill="#000"/><rect x="13" y="12" width="1" height="1" fill="#000"/><rect x="14" y="12" width="1" height="1" fill="#000"/><rect x="14" y="13" width="1" height="1" fill="#000"/><rect x="15" y="13" width="1" height="1" fill="#000"/><rect x="26" y="10" width="1" height="1" fill="#000"/><rect x="25" y="10" width="1" height="1" fill="#000"/><rect x="25" y="11" width="1" height="1" fill="#000"/><rect x="24" y="11" width="1" height="1" fill="#000"/><rect x="24" y="12" width="1" height="1" fill="#000"/><rect x="23" y="12" width="1" height="1" fill="#000"/><rect x="23" y="13" width="1" height="1" fill="#000"/><rect x="22" y="13" width="1" height="1" fill="#000"/><rect x="8" y="16" width="23" height="1" fill="#000"/><rect x="9" y="16" width="21" height="1" fill="#00ffff"/><rect x="9" y="17" width="21" height="1" fill="#000"/><rect x="10" y="17" width="19" height="1" fill="#00ffff"/><rect x="10" y="18" width="19" height="1" fill="#000"/><rect x="11" y="18" width="17" height="1" fill="#00ffff"/><rect x="11" y="19" width="17" height="1" fill="#000"/><rect x="11" y="20" width="17" height="1" fill="#000"/><rect x="12" y="20" width="15" height="1" fill="#00ffff"/><rect x="10" y="21" width="19" height="1" fill="#000"/><rect x="2" y="9" width="4" height="7" fill="#000"/><rect x="3" y="10" width="1" height="1" fill="#00ffff"/><rect x="3" y="14" width="1" height="1" fill="#00ffff"/><rect x="3" y="12" width="3" height="1" fill="#00ffff"/></g>
<text x="487.5" y="528" font-family="Liberation Sans" font-size="13" font-weight="bold" fill="#ffffff" text-anchor="middle" textLength="25.0" lengthAdjust="spacingAndGlyphs">161</text>
<g transform="translate(504,490)"><rect x="6" y="2" width="26" height="14" fill="#000"/><rect x="7" y="3" width="2" height="2" fill="#00ffff"/><rect x="12" y="3" width="2" height="2" fill="#00ffff"/><rect x="15" y="3" width="8" height="2" fill="#00ffff"/><rect x="24" y="3" width="2" height="2" fill="#00ffff"/><rect x="29" y="3" width="2" height="2" fill="#00ffff"/><rect x="12" y="6" width="14" height="1" fill="#00ffff"/><rect x="7" y="6" width="2" height="1" fill="#00ffff"/><rect x="29" y="6" width="2" height="1" fill="#00ffff"/><rect x="12" y="8" width="14" height="1" fill="#00ffff"/><rect x="7" y="8" width="2" height="1" fill="#00ffff"/><rect x="29" y="8" width="2" height="1" fill="#00ffff"/><rect x="10" y="4" width="1" height="6" fill="#00ffff"/><rect x="27" y="4" width="1" height="6" fill="#00ffff"/><rect x="7" y="10" width="24" height="5" fill="#00ffff"/><rect x="11" y="10" width="1" height="1" fill="#000"/><rect x="12" y="10" width="1" height="1" fill="#000"/><rect x="12" y="11" width="1" height="1" fill="#000"/><rect x="13" y="11" width="1" height="1" fill="#000"/><rect x="13" y="12" width="1" height="1" fill="#000"/><rect x="14" y="12" width="1" height="1" fill="#000"/><rect x="14" y="13" width="1" height="1" fill="#000"/><rect x="15" y="13" width="1" height="1" fill="#000"/><rect x="26" y="10" width="1" height="1" fill="#000"/><rect x="25" y="10" width="1" height="1" fill="#000"/><rect x="25" y="11" width="1" height="1" fill="#000"/><rect x="24" y="11" width="1" height="1" fill="#000"/><rect x="24" y="12" width="1" height="1" fill="#000"/><rect x="23" y="12" width="1" height="1" fill="#000"/><rect x="23" y="13" width="1" height="1" fill="#000"/><rect x="22" y="13" width="1" height="1" fill="#000"/><rect x="8" y="16" width="23" height="1" fill="#000"/><rect x="9" y="16" width="21" height="1" fill="#00ffff"/><rect x="9" y="17" width="21" height="1" fill="#000"/><rect x="10" y="17" width="19" height="1" fill="#00ffff"/><rect x="10" y="18" width="19" height="1" fill="#000"/><rect x="11" y="18" width="17" height="1" fill="#00ffff"/><rect x="11" y="19" width="17" height="1" fill="#000"/><rect x="11" y="20" width="17" height="1" fill="#000"/><rect x="12" y="20" width="15" height="1" fill="#00ffff"/><rect x="10" y="21" width="19" height="1" fill="#000"/><rect x="2" y="9" width="4" height="7" fill="#000"/><rect x="3" y="10" width="1" height="1" fill="#00ffff"/><rect x="3" y="14" width="1" height="1" fill="#00ffff"/><rect x="3" y="12" width="3" height="1" fill="#00ffff"/></g>
<text x="523.5" y="528" font-family="Liberation Sans" font-size="13" font-weight="bold" fill="#ffffff" text-anchor="middle" textLength="25.0" lengthAdjust="spacingAndGlyphs">160</text>
<g transform="translate(540,490)"><rect x="6" y="2" width="26" height="14" fill="#000"/><rect x="7" y="3" width="2" height="2" fill="#00ffff"/><rect x="12" y="3" width="2" height="2" fill="#00ffff"/><rect x="15" y="3" width="8" height="2" fill="#00ffff"/><rect x="24" y="3" width="2" height="2" fill="#00ffff"/><rect x="29" y="3" width="2" height="2" fill="#00ffff"/><rect x="12" y="6" width="14" height="1" fill="#00ffff"/><rect x="7" y="6" width="2" height="1" fill="#00ffff"/><rect x="29" y="6" width="2" height="1" fill="#00ffff"/><rect x="12" y="8" width="14" height="1" fill="#00ffff"/><rect x="7" y="8" width="2" height="1" fill="#00ffff"/><rect x="29" y="8" width="2" height="1" fill="#00ffff"/><rect x="10" y="4" width="1" height="6" fill="#00ffff"/><rect x="27" y="4" width="1" height="6" fill="#00ffff"/><rect x="7" y="10" width="24" height="5" fill="#00ffff"/><rect x="11" y="10" width="1" height="1" fill="#000"/><rect x="12" y="10" width="1" height="1" fill="#000"/><rect x="12" y="11" width="1" height="1" fill="#000"/><rect x="13" y="11" width="1" height="1" fill="#000"/><rect x="13" y="12" width="1" height="1" fill="#000"/><rect x="14" y="12" width="1" height="1" fill="#000"/><rect x="14" y="13" width="1" height="1" fill="#000"/><rect x="15" y="13" width="1" height="1" fill="#000"/><rect x="26" y="10" width="1" height="1" fill="#000"/><rect x="25" y="10" width="1" height="1" fill="#000"/><rect x="25" y="11" width="1" height="1" fill="#000"/><rect x="24" y="11" width="1" height="1" fill="#000"/><rect x="24" y="12" width="1" height="1" fill="#000"/><rect x="23" y="12" width="1" height="1" fill="#000"/><rect x="23" y="13" width="1" height="1" fill="#000"/><rect x="22" y="13" width="1" height="1" fill="#000"/><rect x="8" y="16" width="23" height="1" fill="#000"/><rect x="9" y="16" width="21" height="1" fill="#00ffff"/><rect x="9" y="17" width="21" height="1" fill="#000"/><rect x="10" y="17" width="19" height="1" fill="#00ffff"/><rect x="10" y="18" width="19" height="1" fill="#000"/><rect x="11" y="18" width="17" height="1" fill="#00ffff"/><rect x="11" y="19" width="17" height="1" fill="#000"/><rect x="11" y="20" width="17" height="1" fill="#000"/><rect x="12" y="20" width="15" height="1" fill="#00ffff"/><rect x="10" y="21" width="19" height="1" fill="#000"/><rect x="2" y="9" width="4" height="7" fill="#000"/><rect x="3" y="10" width="1" height="1" fill="#00ffff"/><rect x="3" y="14" width="1" height="1" fill="#00ffff"/><rect x="3" y="12" width="3" height="1" fill="#00ffff"/></g>
<text x="559.5" y="528" font-family="Liberation Sans" font-size="13" font-weight="bold" fill="#ffffff" text-anchor="middle" textLength="25.0" lengthAdjust="spacingAndGlyphs">159</text>
<g transform="translate(576,490)"><rect x="6" y="2" width="26" height="14" fill="#000"/><rect x="7" y="3" width="2" height="2" fill="#00ffff"/><rect x="12" y="3" width="2" height="2" fill="#00ffff"/><rect x="15" y="3" width="8" height="2" fill="#00ffff"/><rect x="24" y="3" width="2" height="2" fill="#00ffff"/><rect x="29" y="3" width="2" height="2" fill="#00ffff"/><rect x="12" y="6" width="14" height="1" fill="#00ffff"/><rect x="7" y="6" width="2" height="1" fill="#00ffff"/><rect x="29" y="6" width="2" height="1" fill="#00ffff"/><rect x="12" y="8" width="14" height="1" fill="#00ffff"/><rect x="7" y="8" width="2" height="1" fill="#00ffff"/><rect x="29" y="8" width="2" height="1" fill="#00ffff"/><rect x="10" y="4" width="1" height="6" fill="#00ffff"/><rect x="27" y="4" width="1" height="6" fill="#00ffff"/><rect x="7" y="10" width="24" height="5" fill="#00ffff"/><rect x="11" y="10" width="1" height="1" fill="#000"/><rect x="12" y="10" width="1" height="1" fill="#000"/><rect x="12" y="11" width="1" height="1" fill="#000"/><rect x="13" y="11" width="1" height="1" fill="#000"/><rect x="13" y="12" width="1" height="1" fill="#000"/><rect x="14" y="12" width="1" height="1" fill="#000"/><rect x="14" y="13" width="1" height="1" fill="#000"/><rect x="15" y="13" width="1" height="1" fill="#000"/><rect x="26" y="10" width="1" height="1" fill="#000"/><rect x="25" y="10" width="1" height="1" fill="#000"/><rect x="25" y="11" width="1" height="1" fill="#000"/><rect x="24" y="11" width="1" height="1" fill="#000"/><rect x="24" y="12" width="1" height="1" fill="#000"/><rect x="23" y="12" width="1" height="1" fill="#000"/><rect x="23" y="13" width="1" height="1" fill="#000"/><rect x="22" y="13" width="1" height="1" fill="#000"/><rect x="8" y="16" width="23" height="1" fill="#000"/><rect x="9" y="16" width="21" height="1" fill="#00ffff"/><rect x="9" y="17" width="21" height="1" fill="#000"/><rect x="10" y="17" width="19" height="1" fill="#00ffff"/><rect x="10" y="18" width="19" height="1" fill="#000"/><rect x="11" y="18" width="17" height="1" fill="#00ffff"/><rect x="11" y="19" width="17" height="1" fill="#000"/><rect x="11" y="20" width="17" height="1" fill="#000"/><rect x="12" y="20" width="15" height="1" fill="#00ffff"/><rect x="10" y="21" width="19" height="1" fill="#000"/><rect x="2" y="9" width="4" height="7" fill="#000"/><rect x="3" y="10" width="1" height="1" fill="#00ffff"/><rect x="3" y="14" width="1" height="1" fill="#00ffff"/><rect x="3" y="12" width="3" height="1" fill="#00ffff"/></g>
<text x="595.5" y="528" font-family="Liberation Sans" font-size="13" font-weight="bold" fill="#ffffff" text-anchor="middle" textLength="25.0" lengthAdjust="spacingAndGlyphs">158</text>
<g transform="translate(612,490)"><rect x="6" y="2" width="26" height="14" fill="#000"/><rect x="7" y="3" width="2" height="2" fill="#00ffff"/><rect x="12" y="3" width="2" height="2" fill="#00ffff"/><rect x="15" y="3" width="8" height="2" fill="#00ffff"/><rect x="24" y="3" width="2" height="2" fill="#00ffff"/><rect x="29" y="3" width="2" height="2" fill="#00ffff"/><rect x="12" y="6" width="14" height="1" fill="#00ffff"/><rect x="7" y="6" width="2" height="1" fill="#00ffff"/><rect x="29" y="6" width="2" height="1" fill="#00ffff"/><rect x="12" y="8" width="14" height="1" fill="#00ffff"/><rect x="7" y="8" width="2" height="1" fill="#00ffff"/><rect x="29" y="8" width="2" height="1" fill="#00ffff"/><rect x="10" y="4" width="1" height="6" fill="#00ffff"/><rect x="27" y="4" width="1" height="6" fill="#00ffff"/><rect x="7" y="10" width="24" height="5" fill="#00ffff"/><rect x="11" y="10" width="1" height="1" fill="#000"/><rect x="12" y="10" width="1" height="1" fill="#000"/><rect x="12" y="11" width="1" height="1" fill="#000"/><rect x="13" y="11" width="1" height="1" fill="#000"/><rect x="13" y="12" width="1" height="1" fill="#000"/><rect x="14" y="12" width="1" height="1" fill="#000"/><rect x="14" y="13" width="1" height="1" fill="#000"/><rect x="15" y="13" width="1" height="1" fill="#000"/><rect x="26" y="10" width="1" height="1" fill="#000"/><rect x="25" y="10" width="1" height="1" fill="#000"/><rect x="25" y="11" width="1" height="1" fill="#000"/><rect x="24" y="11" width="1" height="1" fill="#000"/><rect x="24" y="12" width="1" height="1" fill="#000"/><rect x="23" y="12" width="1" height="1" fill="#000"/><rect x="23" y="13" width="1" height="1" fill="#000"/><rect x="22" y="13" width="1" height="1" fill="#000"/><rect x="8" y="16" width="23" height="1" fill="#000"/><rect x="9" y="16" width="21" height="1" fill="#00ffff"/><rect x="9" y="17" width="21" height="1" fill="#000"/><rect x="10" y="17" width="19" height="1" fill="#00ffff"/><rect x="10" y="18" width="19" height="1" fill="#000"/><rect x="11" y="18" width="17" height="1" fill="#00ffff"/><rect x="11" y="19" width="17" height="1" fill="#000"/><rect x="11" y="20" width="17" height="1" fill="#000"/><rect x="12" y="20" width="15" height="1" fill="#00ffff"/><rect x="10" y="21" width="19" height="1" fill="#000"/><rect x="2" y="9" width="4" height="7" fill="#000"/><rect x="3" y="10" width="1" height="1" fill="#00ffff"/><rect x="3" y="14" width="1" height="1" fill="#00ffff"/><rect x="3" y="12" width="3" height="1" fill="#00ffff"/></g>
<text x="631.5" y="528" font-family="Liberation Sans" font-size="13" font-weight="bold" fill="#ffffff" text-anchor="middle" textLength="25.0" lengthAdjust="spacingAndGlyphs">128</text>
<g transform="translate(648,490)"><rect x="6" y="2" width="26" height="14" fill="#000"/><rect x="7" y="3" width="2" height="2" fill="#00ffff"/><rect x="12" y="3" width="2" height="2" fill="#00ffff"/><rect x="15" y="3" width="8" height="2" fill="#00ffff"/><rect x="24" y="3" width="2" height="2" fill="#00ffff"/><rect x="29" y="3" width="2" height="2" fill="#00ffff"/><rect x="12" y="6" width="14" height="1" fill="#00ffff"/><rect x="7" y="6" width="2" height="1" fill="#00ffff"/><rect x="29" y="6" width="2" height="1" fill="#00ffff"/><rect x="12" y="8" width="14" height="1" fill="#00ffff"/><rect x="7" y="8" width="2" height="1" fill="#00ffff"/><rect x="29" y="8" width="2" height="1" fill="#00ffff"/><rect x="10" y="4" width="1" height="6" fill="#00ffff"/><rect x="27" y="4" width="1" height="6" fill="#00ffff"/><rect x="7" y="10" width="24" height="5" fill="#00ffff"/><rect x="11" y="10" width="1" height="1" fill="#000"/><rect x="12" y="10" width="1" height="1" fill="#000"/><rect x="12" y="11" width="1" height="1" fill="#000"/><rect x="13" y="11" width="1" height="1" fill="#000"/><rect x="13" y="12" width="1" height="1" fill="#000"/><rect x="14" y="12" width="1" height="1" fill="#000"/><rect x="14" y="13" width="1" height="1" fill="#000"/><rect x="15" y="13" width="1" height="1" fill="#000"/><rect x="26" y="10" width="1" height="1" fill="#000"/><rect x="25" y="10" width="1" height="1" fill="#000"/><rect x="25" y="11" width="1" height="1" fill="#000"/><rect x="24" y="11" width="1" height="1" fill="#000"/><rect x="24" y="12" width="1" height="1" fill="#000"/><rect x="23" y="12" width="1" height="1" fill="#000"/><rect x="23" y="13" width="1" height="1" fill="#000"/><rect x="22" y="13" width="1" height="1" fill="#000"/><rect x="8" y="16" width="23" height="1" fill="#000"/><rect x="9" y="16" width="21" height="1" fill="#00ffff"/><rect x="9" y="17" width="21" height="1" fill="#000"/><rect x="10" y="17" width="19" height="1" fill="#00ffff"/><rect x="10" y="18" width="19" height="1" fill="#000"/><rect x="11" y="18" width="17" height="1" fill="#00ffff"/><rect x="11" y="19" width="17" height="1" fill="#000"/><rect x="11" y="20" width="17" height="1" fill="#000"/><rect x="12" y="20" width="15" height="1" fill="#00ffff"/><rect x="10" y="21" width="19" height="1" fill="#000"/><rect x="2" y="9" width="4" height="7" fill="#000"/><rect x="3" y="10" width="1" height="1" fill="#00ffff"/><rect x="3" y="14" width="1" height="1" fill="#00ffff"/><rect x="3" y="12" width="3" height="1" fill="#00ffff"/></g>
<text x="667.5" y="528" font-family="Liberation Sans" font-size="13" font-weight="bold" fill="#ffffff" text-anchor="middle" textLength="25.0" lengthAdjust="spacingAndGlyphs">129</text>
<g transform="translate(684,490)"><rect x="6" y="2" width="26" height="14" fill="#000"/><rect x="7" y="3" width="2" height="2" fill="#00ffff"/><rect x="12" y="3" width="2" height="2" fill="#00ffff"/><rect x="15" y="3" width="8" height="2" fill="#00ffff"/><rect x="24" y="3" width="2" height="2" fill="#00ffff"/><rect x="29" y="3" width="2" height="2" fill="#00ffff"/><rect x="12" y="6" width="14" height="1" fill="#00ffff"/><rect x="7" y="6" width="2" height="1" fill="#00ffff"/><rect x="29" y="6" width="2" height="1" fill="#00ffff"/><rect x="12" y="8" width="14" height="1" fill="#00ffff"/><rect x="7" y="8" width="2" height="1" fill="#00ffff"/><rect x="29" y="8" width="2" height="1" fill="#00ffff"/><rect x="10" y="4" width="1" height="6" fill="#00ffff"/><rect x="27" y="4" width="1" height="6" fill="#00ffff"/><rect x="7" y="10" width="24" height="5" fill="#00ffff"/><rect x="11" y="10" width="1" height="1" fill="#000"/><rect x="12" y="10" width="1" height="1" fill="#000"/><rect x="12" y="11" width="1" height="1" fill="#000"/><rect x="13" y="11" width="1" height="1" fill="#000"/><rect x="13" y="12" width="1" height="1" fill="#000"/><rect x="14" y="12" width="1" height="1" fill="#000"/><rect x="14" y="13" width="1" height="1" fill="#000"/><rect x="15" y="13" width="1" height="1" fill="#000"/><rect x="26" y="10" width="1" height="1" fill="#000"/><rect x="25" y="10" width="1" height="1" fill="#000"/><rect x="25" y="11" width="1" height="1" fill="#000"/><rect x="24" y="11" width="1" height="1" fill="#000"/><rect x="24" y="12" width="1" height="1" fill="#000"/><rect x="23" y="12" width="1" height="1" fill="#000"/><rect x="23" y="13" width="1" height="1" fill="#000"/><rect x="22" y="13" width="1" height="1" fill="#000"/><rect x="8" y="16" width="23" height="1" fill="#000"/><rect x="9" y="16" width="21" height="1" fill="#00ffff"/><rect x="9" y="17" width="21" height="1" fill="#000"/><rect x="10" y="17" width="19" height="1" fill="#00ffff"/><rect x="10" y="18" width="19" height="1" fill="#000"/><rect x="11" y="18" width="17" height="1" fill="#00ffff"/><rect x="11" y="19" width="17" height="1" fill="#000"/><rect x="11" y="20" width="17" height="1" fill="#000"/><rect x="12" y="20" width="15" height="1" fill="#00ffff"/><rect x="10" y="21" width="19" height="1" fill="#000"/><rect x="2" y="9" width="4" height="7" fill="#000"/><rect x="3" y="10" width="1" height="1" fill="#00ffff"/><rect x="3" y="14" width="1" height="1" fill="#00ffff"/><rect x="3" y="12" width="3" height="1" fill="#00ffff"/></g>
<text x="703.5" y="528" font-family="Liberation Sans" font-size="13" font-weight="bold" fill="#ffffff" text-anchor="middle" textLength="25.0" lengthAdjust="spacingAndGlyphs">130</text>
<g transform="translate(720,490)"><rect x="6" y="2" width="26" height="14" fill="#000"/><rect x="7" y="3" width="2" height="2" fill="#00ffff"/><rect x="12" y="3" width="2" height="2" fill="#00ffff"/><rect x="15" y="3" width="8" height="2" fill="#00ffff"/><rect x="24" y="3" width="2" height="2" fill="#00ffff"/><rect x="29" y="3" width="2" height="2" fill="#00ffff"/><rect x="12" y="6" width="14" height="1" fill="#00ffff"/><rect x="7" y="6" width="2" height="1" fill="#00ffff"/><rect x="29" y="6" width="2" height="1" fill="#00ffff"/><rect x="12" y="8" width="14" height="1" fill="#00ffff"/><rect x="7" y="8" width="2" height="1" fill="#00ffff"/><rect x="29" y="8" width="2" height="1" fill="#00ffff"/><rect x="10" y="4" width="1" height="6" fill="#00ffff"/><rect x="27" y="4" width="1" height="6" fill="#00ffff"/><rect x="7" y="10" width="24" height="5" fill="#00ffff"/><rect x="11" y="10" width="1" height="1" fill="#000"/><rect x="12" y="10" width="1" height="1" fill="#000"/><rect x="12" y="11" width="1" height="1" fill="#000"/><rect x="13" y="11" width="1" height="1" fill="#000"/><rect x="13" y="12" width="1" height="1" fill="#000"/><rect x="14" y="12" width="1" height="1" fill="#000"/><rect x="14" y="13" width="1" height="1" fill="#000"/><rect x="15" y="13" width="1" height="1" fill="#000"/><rect x="26" y="10" width="1" height="1" fill="#000"/><rect x="25" y="10" width="1" height="1" fill="#000"/><rect x="25" y="11" width="1" height="1" fill="#000"/><rect x="24" y="11" width="1" height="1" fill="#000"/><rect x="24" y="12" width="1" height="1" fill="#000"/><rect x="23" y="12" width="1" height="1" fill="#000"/><rect x="23" y="13" width="1" height="1" fill="#000"/><rect x="22" y="13" width="1" height="1" fill="#000"/><rect x="8" y="16" width="23" height="1" fill="#000"/><rect x="9" y="16" width="21" height="1" fill="#00ffff"/><rect x="9" y="17" width="21" height="1" fill="#000"/><rect x="10" y="17" width="19" height="1" fill="#00ffff"/><rect x="10" y="18" width="19" height="1" fill="#000"/><rect x="11" y="18" width="17" height="1" fill="#00ffff"/><rect x="11" y="19" width="17" height="1" fill="#000"/><rect x="11" y="20" width="17" height="1" fill="#000"/><rect x="12" y="20" width="15" height="1" fill="#00ffff"/><rect x="10" y="21" width="19" height="1" fill="#000"/><rect x="2" y="9" width="4" height="7" fill="#000"/><rect x="3" y="10" width="1" height="1" fill="#00ffff"/><rect x="3" y="14" width="1" height="1" fill="#00ffff"/><rect x="3" y="12" width="3" height="1" fill="#00ffff"/></g>
<text x="739.5" y="528" font-family="Liberation Sans" font-size="13" font-weight="bold" fill="#ffffff" text-anchor="middle" textLength="25.0" lengthAdjust="spacingAndGlyphs">131</text>
<g transform="translate(756,490)"><rect x="6" y="2" width="26" height="14" fill="#000"/><rect x="7" y="3" width="2" height="2" fill="#00ffff"/><rect x="12" y="3" width="2" height="2" fill="#00ffff"/><rect x="15" y="3" width="8" height="2" fill="#00ffff"/><rect x="24" y="3" width="2" height="2" fill="#00ffff"/><rect x="29" y="3" width="2" height="2" fill="#00ffff"/><rect x="12" y="6" width="14" height="1" fill="#00ffff"/><rect x="7" y="6" width="2" height="1" fill="#00ffff"/><rect x="29" y="6" width="2" height="1" fill="#00ffff"/><rect x="12" y="8" width="14" height="1" fill="#00ffff"/><rect x="7" y="8" width="2" height="1" fill="#00ffff"/><rect x="29" y="8" width="2" height="1" fill="#00ffff"/><rect x="10" y="4" width="1" height="6" fill="#00ffff"/><rect x="27" y="4" width="1" height="6" fill="#00ffff"/><rect x="7" y="10" width="24" height="5" fill="#00ffff"/><rect x="11" y="10" width="1" height="1" fill="#000"/><rect x="12" y="10" width="1" height="1" fill="#000"/><rect x="12" y="11" width="1" height="1" fill="#000"/><rect x="13" y="11" width="1" height="1" fill="#000"/><rect x="13" y="12" width="1" height="1" fill="#000"/><rect x="14" y="12" width="1" height="1" fill="#000"/><rect x="14" y="13" width="1" height="1" fill="#000"/><rect x="15" y="13" width="1" height="1" fill="#000"/><rect x="26" y="10" width="1" height="1" fill="#000"/><rect x="25" y="10" width="1" height="1" fill="#000"/><rect x="25" y="11" width="1" height="1" fill="#000"/><rect x="24" y="11" width="1" height="1" fill="#000"/><rect x="24" y="12" width="1" height="1" fill="#000"/><rect x="23" y="12" width="1" height="1" fill="#000"/><rect x="23" y="13" width="1" height="1" fill="#000"/><rect x="22" y="13" width="1" height="1" fill="#000"/><rect x="8" y="16" width="23" height="1" fill="#000"/><rect x="9" y="16" width="21" height="1" fill="#00ffff"/><rect x="9" y="17" width="21" height="1" fill="#000"/><rect x="10" y="17" width="19" height="1" fill="#00ffff"/><rect x="10" y="18" width="19" height="1" fill="#000"/><rect x="11" y="18" width="17" height="1" fill="#00ffff"/><rect x="11" y="19" width="17" height="1" fill="#000"/><rect x="11" y="20" width="17" height="1" fill="#000"/><rect x="12" y="20" width="15" height="1" fill="#00ffff"/><rect x="10" y="21" width="19" height="1" fill="#000"/><rect x="2" y="9" width="4" height="7" fill="#000"/><rect x="3" y="10" width="1" height="1" fill="#00ffff"/><rect x="3" y="14" width="1" height="1" fill="#00ffff"/><rect x="3" y="12" width="3" height="1" fill="#00ffff"/></g>
<text x="775.5" y="528" font-family="Liberation Sans" font-size="13" font-weight="bold" fill="#ffffff" text-anchor="middle" textLength="25.0" lengthAdjust="spacingAndGlyphs">169</text>
<g transform="translate(792,490)"><rect x="6" y="2" width="26" height="14" fill="#000"/><rect x="7" y="3" width="2" height="2" fill="#00ffff"/><rect x="12" y="3" width="2" height="2" fill="#00ffff"/><rect x="15" y="3" width="8" height="2" fill="#00ffff"/><rect x="24" y="3" width="2" height="2" fill="#00ffff"/><rect x="29" y="3" width="2" height="2" fill="#00ffff"/><rect x="12" y="6" width="14" height="1" fill="#00ffff"/><rect x="7" y="6" width="2" height="1" fill="#00ffff"/><rect x="29" y="6" width="2" height="1" fill="#00ffff"/><rect x="12" y="8" width="14" height="1" fill="#00ffff"/><rect x="7" y="8" width="2" height="1" fill="#00ffff"/><rect x="29" y="8" width="2" height="1" fill="#00ffff"/><rect x="10" y="4" width="1" height="6" fill="#00ffff"/><rect x="27" y="4" width="1" height="6" fill="#00ffff"/><rect x="7" y="10" width="24" height="5" fill="#00ffff"/><rect x="11" y="10" width="1" height="1" fill="#000"/><rect x="12" y="10" width="1" height="1" fill="#000"/><rect x="12" y="11" width="1" height="1" fill="#000"/><rect x="13" y="11" width="1" height="1" fill="#000"/><rect x="13" y="12" width="1" height="1" fill="#000"/><rect x="14" y="12" width="1" height="1" fill="#000"/><rect x="14" y="13" width="1" height="1" fill="#000"/><rect x="15" y="13" width="1" height="1" fill="#000"/><rect x="26" y="10" width="1" height="1" fill="#000"/><rect x="25" y="10" width="1" height="1" fill="#000"/><rect x="25" y="11" width="1" height="1" fill="#000"/><rect x="24" y="11" width="1" height="1" fill="#000"/><rect x="24" y="12" width="1" height="1" fill="#000"/><rect x="23" y="12" width="1" height="1" fill="#000"/><rect x="23" y="13" width="1" height="1" fill="#000"/><rect x="22" y="13" width="1" height="1" fill="#000"/><rect x="8" y="16" width="23" height="1" fill="#000"/><rect x="9" y="16" width="21" height="1" fill="#00ffff"/><rect x="9" y="17" width="21" height="1" fill="#000"/><rect x="10" y="17" width="19" height="1" fill="#00ffff"/><rect x="10" y="18" width="19" height="1" fill="#000"/><rect x="11" y="18" width="17" height="1" fill="#00ffff"/><rect x="11" y="19" width="17" height="1" fill="#000"/><rect x="11" y="20" width="17" height="1" fill="#000"/><rect x="12" y="20" width="15" height="1" fill="#00ffff"/><rect x="10" y="21" width="19" height="1" fill="#000"/><rect x="2" y="9" width="4" height="7" fill="#000"/><rect x="3" y="10" width="1" height="1" fill="#00ffff"/><rect x="3" y="14" width="1" height="1" fill="#00ffff"/><rect x="3" y="12" width="3" height="1" fill="#00ffff"/></g>
<text x="811.5" y="528" font-family="Liberation Sans" font-size="13" font-weight="bold" fill="#ffffff" text-anchor="middle" textLength="25.0" lengthAdjust="spacingAndGlyphs">170</text>
<g transform="translate(828,490)"><rect x="6" y="2" width="26" height="14" fill="#000"/><rect x="7" y="3" width="2" height="2" fill="#00ffff"/><rect x="12" y="3" width="2" height="2" fill="#00ffff"/><rect x="15" y="3" width="8" height="2" fill="#00ffff"/><rect x="24" y="3" width="2" height="2" fill="#00ffff"/><rect x="29" y="3" width="2" height="2" fill="#00ffff"/><rect x="12" y="6" width="14" height="1" fill="#00ffff"/><rect x="7" y="6" width="2" height="1" fill="#00ffff"/><rect x="29" y="6" width="2" height="1" fill="#00ffff"/><rect x="12" y="8" width="14" height="1" fill="#00ffff"/><rect x="7" y="8" width="2" height="1" fill="#00ffff"/><rect x="29" y="8" width="2" height="1" fill="#00ffff"/><rect x="10" y="4" width="1" height="6" fill="#00ffff"/><rect x="27" y="4" width="1" height="6" fill="#00ffff"/><rect x="7" y="10" width="24" height="5" fill="#00ffff"/><rect x="11" y="10" width="1" height="1" fill="#000"/><rect x="12" y="10" width="1" height="1" fill="#000"/><rect x="12" y="11" width="1" height="1" fill="#000"/><rect x="13" y="11" width="1" height="1" fill="#000"/><rect x="13" y="12" width="1" height="1" fill="#000"/><rect x="14" y="12" width="1" height="1" fill="#000"/><rect x="14" y="13" width="1" height="1" fill="#000"/><rect x="15" y="13" width="1" height="1" fill="#000"/><rect x="26" y="10" width="1" height="1" fill="#000"/><rect x="25" y="10" width="1" height="1" fill="#000"/><rect x="25" y="11" width="1" height="1" fill="#000"/><rect x="24" y="11" width="1" height="1" fill="#000"/><rect x="24" y="12" width="1" height="1" fill="#000"/><rect x="23" y="12" width="1" height="1" fill="#000"/><rect x="23" y="13" width="1" height="1" fill="#000"/><rect x="22" y="13" width="1" height="1" fill="#000"/><rect x="8" y="16" width="23" height="1" fill="#000"/><rect x="9" y="16" width="21" height="1" fill="#00ffff"/><rect x="9" y="17" width="21" height="1" fill="#000"/><rect x="10" y="17" width="19" height="1" fill="#00ffff"/><rect x="10" y="18" width="19" height="1" fill="#000"/><rect x="11" y="18" width="17" height="1" fill="#00ffff"/><rect x="11" y="19" width="17" height="1" fill="#000"/><rect x="11" y="20" width="17" height="1" fill="#000"/><rect x="12" y="20" width="15" height="1" fill="#00ffff"/><rect x="10" y="21" width="19" height="1" fill="#000"/><rect x="2" y="9" width="4" height="7" fill="#000"/><rect x="3" y="10" width="1" height="1" fill="#00ffff"/><rect x="3" y="14" width="1" height="1" fill="#00ffff"/><rect x="3" y="12" width="3" height="1" fill="#00ffff"/></g>
<text x="847.5" y="528" font-family="Liberation Sans" font-size="13" font-weight="bold" fill="#ffffff" text-anchor="middle" textLength="25.0" lengthAdjust="spacingAndGlyphs">171</text>
<rect x="156" y="97" width="1" height="28" fill="#ffffff" />
<rect x="152" y="125" width="9" height="5" fill="#ffffff" />
<rect x="153" y="126" width="1" height="1" fill="#008080" />
<rect x="153" y="127" width="1" height="1" fill="#008080" />
<rect x="154" y="127" width="1" height="1" fill="#008080" />
<rect x="155" y="128" width="1" height="1" fill="#008080" />
<rect x="156" y="128" width="1" height="1" fill="#008080" />
<rect x="157" y="128" width="1" height="1" fill="#008080" />
<rect x="158" y="127" width="1" height="1" fill="#008080" />
<rect x="159" y="127" width="1" height="1" fill="#008080" />
<rect x="159" y="126" width="1" height="1" fill="#008080" />
<rect x="152" y="125" width="1" height="319" fill="#ffffff" />
<rect x="160" y="125" width="1" height="13" fill="#ffffff" />
<rect x="160" y="137" width="58" height="1" fill="#ffffff" />
<rect x="217" y="137" width="1" height="9" fill="#ffffff" />
<rect x="555" y="151" width="189" height="1" fill="#ffffff" />
<rect x="743" y="151" width="1" height="71" fill="#ffffff" />
<rect x="569" y="137" width="1" height="12" fill="#ffffff" />
<rect x="569" y="154" width="1" height="17" fill="#ffffff" />
<rect x="569" y="176" width="1" height="16" fill="#ffffff" />
<rect x="569" y="137" width="33" height="1" fill="#ffffff" />
<rect x="601" y="118" width="1" height="20" fill="#ffffff" />
<rect x="610" y="118" width="1" height="31" fill="#ffffff" />
<rect x="610" y="154" width="1" height="20" fill="#ffffff" />
<rect x="440" y="173" width="205" height="1" fill="#ffffff" />
<rect x="440" y="173" width="1" height="12" fill="#ffffff" />
<rect x="644" y="173" width="1" height="7" fill="#ffffff" />
<rect x="565" y="204" width="1" height="10" fill="#ffffff" />
<rect x="516" y="213" width="50" height="1" fill="#ffffff" />
<rect x="516" y="213" width="1" height="8" fill="#ffffff" />
<rect x="552" y="213" width="1" height="8" fill="#ffffff" />
<rect x="573" y="204" width="1" height="10" fill="#ffffff" />
<rect x="573" y="213" width="48" height="1" fill="#ffffff" />
<rect x="585" y="213" width="1" height="8" fill="#ffffff" />
<rect x="620" y="213" width="1" height="8" fill="#ffffff" />
<rect x="644" y="208" width="1" height="43" fill="#ffffff" />
<rect x="671" y="209" width="174" height="1" fill="#ffffff" />
<rect x="671" y="209" width="1" height="13" fill="#ffffff" />
<rect x="707" y="209" width="1" height="13" fill="#ffffff" />
<rect x="779" y="209" width="1" height="13" fill="#ffffff" />
<rect x="844" y="209" width="1" height="13" fill="#ffffff" />
<rect x="813" y="209" width="1" height="42" fill="#ffffff" />
<rect x="824" y="97" width="81" height="1" fill="#ffffff" />
<rect x="904" y="97" width="1" height="17" fill="#ffffff" />
<rect x="900" y="113" width="9" height="5" fill="#ffffff" />
<rect x="901" y="114" width="1" height="1" fill="#008080" />
<rect x="901" y="115" width="1" height="1" fill="#008080" />
<rect x="902" y="115" width="1" height="1" fill="#008080" />
<rect x="903" y="116" width="1" height="1" fill="#008080" />
<rect x="905" y="116" width="1" height="1" fill="#008080" />
<rect x="906" y="115" width="1" height="1" fill="#008080" />
<rect x="907" y="115" width="1" height="1" fill="#008080" />
<rect x="907" y="114" width="1" height="1" fill="#008080" />
<rect x="908" y="113" width="1" height="16" fill="#ffffff" />
<rect x="908" y="128" width="85" height="1" fill="#ffffff" />
<rect x="992" y="128" width="1" height="10" fill="#ffffff" />
<rect x="900" y="113" width="1" height="138" fill="#ffffff" />
<rect x="901" y="412" width="1" height="22" fill="#ffffff" />
<rect x="901" y="484" width="1" height="21" fill="#ffffff" />
<rect x="256" y="197" width="1" height="50" fill="#ffffff" />
<rect x="256" y="538" width="1" height="10" fill="#ffffff" />
<rect x="256" y="547" width="17" height="1" fill="#ffffff" />
<rect x="272" y="547" width="1" height="36" fill="#ffffff" />
<rect x="280" y="626" width="1" height="5" fill="#ffffff" />
<rect x="280" y="630" width="427" height="1" fill="#ffffff" />
<rect x="670" y="623" width="1" height="8" fill="#ffffff" />
<rect x="706" y="623" width="1" height="8" fill="#ffffff" />
<rect x="664" y="630" width="1" height="71" fill="#ffffff" />
<rect x="664" y="700" width="151" height="1" fill="#ffffff" />
<rect x="814" y="692" width="1" height="9" fill="#ffffff" />
<rect x="253" y="626" width="1" height="10" fill="#ffffff" />
<rect x="228" y="649" width="1" height="57" fill="#ffffff" />
<rect x="667" y="535" width="1" height="48" fill="#ffffff" />
<rect x="703" y="535" width="1" height="48" fill="#ffffff" />
<rect x="739" y="535" width="1" height="48" fill="#ffffff" />
<rect x="775" y="535" width="1" height="48" fill="#ffffff" />
<rect x="771" y="595" width="1" height="46" fill="#ffffff" />
<rect x="804" y="535" width="1" height="17" fill="#ffffff" />
<rect x="804" y="551" width="36" height="1" fill="#ffffff" />
<rect x="839" y="535" width="1" height="71" fill="#ffffff" />
<rect x="842" y="656" width="1" height="25" fill="#ffffff" />
<rect x="843" y="595" width="1" height="10" fill="#ffffff" />
<rect x="843" y="595" width="113" height="1" fill="#ffffff" />
<rect x="955" y="582" width="1" height="14" fill="#ffffff" />
<rect x="949" y="483" width="1" height="54" fill="#ffffff" />
<rect x="617" y="95" width="1" height="3" fill="#ffffff" />
<rect x="605" y="97" width="13" height="1" fill="#ffffff" />
<rect x="605" y="97" width="1" height="9" fill="#ffffff" />
<rect x="824" y="94" width="1" height="4" fill="#ffffff" />
<polygon points="125.5,70.5 141.5,70.5 146.5,76.5 146.5,83.5 154.5,94.5 154.5,95.5 146.5,95.5 146.5,99.5 136.5,99.5 136.5,95.5 130.5,95.5 130.5,99.5 120.5,99.5 120.5,95.5 112.5,95.5 112.5,94.5 120.5,83.5 120.5,76.5" fill="#00ffff" stroke="#000000" stroke-width="1" />
<rect x="124.5" y="81.5" width="6" height="6" fill="#00ffff" stroke="#000000" stroke-width="1"/>
<rect x="127" y="100" width="1" height="25" fill="#00ffff" />
<rect x="140" y="100" width="1" height="25" fill="#00ffff" />
<rect x="125" y="124" width="3" height="1" fill="#00ffff" />
<rect x="140" y="100" width="3" height="1" fill="#00ffff" />
<rect x="140" y="124" width="3" height="1" fill="#00ffff" />
<path d="M127.5,100.5 L122.5,103.5 L122.5,104.5 L125.5,108.5 L127.5,108.5 M140.5,101.5 L145.5,106.5 L142.5,108.5 L140.5,108.5 M127.5,112.5 L122.5,115.5 L122.5,116.5 L125.5,120.5 L127.5,120.5 M140.5,113.5 L145.5,118.5 L142.5,120.5 L140.5,120.5" stroke="#00ffff" stroke-width="1" fill="none"/>
<polygon points="630.5,70.5 646.5,70.5 651.5,76.5 651.5,95.5 651.5,99.5 641.5,99.5 641.5,95.5 635.5,95.5 635.5,99.5 625.5,99.5 625.5,95.5 617.5,95.5 617.5,94.5 625.5,83.5 625.5,76.5" fill="#00ffff" stroke="#000000" stroke-width="1" />
<rect x="635.5" y="81.5" width="6" height="6" fill="#00ffff" stroke="#000000" stroke-width="1"/>
<rect x="632" y="100" width="1" height="25" fill="#00ffff" />
<rect x="645" y="100" width="1" height="25" fill="#00ffff" />
<rect x="630" y="124" width="3" height="1" fill="#00ffff" />
<rect x="645" y="100" width="3" height="1" fill="#00ffff" />
<rect x="645" y="124" width="3" height="1" fill="#00ffff" />
<path d="M632.5,100.5 L627.5,103.5 L627.5,104.5 L630.5,108.5 L632.5,108.5 M645.5,101.5 L650.5,106.5 L647.5,108.5 L645.5,108.5 M632.5,112.5 L627.5,115.5 L627.5,116.5 L630.5,120.5 L632.5,120.5 M645.5,113.5 L650.5,118.5 L647.5,120.5 L645.5,120.5" stroke="#00ffff" stroke-width="1" fill="none"/>
<polygon points="794.5,70.5 810.5,70.5 815.5,76.5 815.5,83.5 823.5,94.5 823.5,95.5 815.5,95.5 815.5,99.5 805.5,99.5 805.5,95.5 799.5,95.5 799.5,99.5 789.5,99.5 789.5,76.5" fill="#00ffff" stroke="#000000" stroke-width="1" />
<rect x="799.5" y="81.5" width="6" height="6" fill="#00ffff" stroke="#000000" stroke-width="1"/>
<rect x="796" y="100" width="1" height="25" fill="#00ffff" />
<rect x="808" y="100" width="1" height="25" fill="#00ffff" />
<rect x="794" y="124" width="3" height="1" fill="#00ffff" />
<rect x="808" y="100" width="3" height="1" fill="#00ffff" />
<rect x="808" y="124" width="3" height="1" fill="#00ffff" />
<path d="M796.5,100.5 L791.5,103.5 L791.5,104.5 L794.5,108.5 L796.5,108.5 M808.5,101.5 L813.5,106.5 L810.5,108.5 L808.5,108.5 M796.5,112.5 L791.5,115.5 L791.5,116.5 L794.5,120.5 L796.5,120.5 M808.5,113.5 L813.5,118.5 L810.5,120.5 L808.5,120.5" stroke="#00ffff" stroke-width="1" fill="none"/>
<polygon points="193.5,701.5 203.5,701.5 203.5,706.5 209.5,706.5 209.5,701.5 219.5,701.5 219.5,706.5 227.5,706.5 219.5,718.5 219.5,724.5 214.5,730.5 198.5,730.5 193.5,724.5 193.5,718.5 185.5,706.5 193.5,706.5" fill="#00ffff" stroke="#000000" stroke-width="1" />
<rect x="199.5" y="710.5" width="5" height="4" fill="#00ffff" stroke="#000000" stroke-width="1"/>
<circle cx="202.5" cy="721.5" r="3.5" fill="none" stroke="#000" stroke-width="1" shape-rendering="auto"/>
<rect x="200" y="676" width="1" height="25" fill="#00ffff" />
<rect x="212" y="676" width="1" height="25" fill="#00ffff" />
<rect x="198" y="700" width="3" height="1" fill="#00ffff" />
<rect x="212" y="676" width="3" height="1" fill="#00ffff" />
<rect x="212" y="700" width="3" height="1" fill="#00ffff" />
<path d="M200.5,676.5 L195.5,679.5 L195.5,680.5 L198.5,684.5 L200.5,684.5 M212.5,677.5 L217.5,682.5 L214.5,684.5 L212.5,684.5 M200.5,688.5 L195.5,691.5 L195.5,692.5 L198.5,696.5 L200.5,696.5 M212.5,689.5 L217.5,694.5 L214.5,696.5 L212.5,696.5" stroke="#00ffff" stroke-width="1" fill="none"/>
<polygon points="629.5,701.5 639.5,701.5 639.5,706.5 645.5,706.5 645.5,701.5 655.5,701.5 655.5,706.5 663.5,706.5 655.5,718.5 655.5,724.5 650.5,730.5 634.5,730.5 629.5,724.5" fill="#00ffff" stroke="#000000" stroke-width="1" />
<rect x="640.5" y="710.5" width="5" height="4" fill="#00ffff" stroke="#000000" stroke-width="1"/>
<circle cx="643.5" cy="721.5" r="3.5" fill="none" stroke="#000" stroke-width="1" shape-rendering="auto"/>
<rect x="636" y="676" width="1" height="25" fill="#00ffff" />
<rect x="648" y="676" width="1" height="25" fill="#00ffff" />
<rect x="634" y="700" width="3" height="1" fill="#00ffff" />
<rect x="648" y="676" width="3" height="1" fill="#00ffff" />
<rect x="648" y="700" width="3" height="1" fill="#00ffff" />
<path d="M636.5,676.5 L631.5,679.5 L631.5,680.5 L634.5,684.5 L636.5,684.5 M648.5,677.5 L653.5,682.5 L650.5,684.5 L648.5,684.5 M636.5,688.5 L631.5,691.5 L631.5,692.5 L634.5,696.5 L636.5,696.5 M648.5,689.5 L653.5,694.5 L650.5,696.5 L648.5,696.5" stroke="#00ffff" stroke-width="1" fill="none"/>
<polygon points="782.5,640.5 792.5,640.5 792.5,645.5 798.5,645.5 798.5,640.5 808.5,640.5 808.5,663.5 803.5,669.5 787.5,669.5 782.5,663.5 782.5,657.5 774.5,645.5 782.5,645.5" fill="#00ffff" stroke="#000000" stroke-width="1" />
<rect x="793.5" y="649.5" width="5" height="4" fill="#00ffff" stroke="#000000" stroke-width="1"/>
<circle cx="796.5" cy="660.5" r="3.5" fill="none" stroke="#000" stroke-width="1" shape-rendering="auto"/>
<rect x="789" y="615" width="1" height="25" fill="#00ffff" />
<rect x="801" y="615" width="1" height="25" fill="#00ffff" />
<rect x="787" y="639" width="3" height="1" fill="#00ffff" />
<rect x="801" y="615" width="3" height="1" fill="#00ffff" />
<rect x="801" y="639" width="3" height="1" fill="#00ffff" />
<path d="M789.5,615.5 L784.5,618.5 L784.5,619.5 L787.5,623.5 L789.5,623.5 M801.5,616.5 L806.5,621.5 L803.5,623.5 L801.5,623.5 M789.5,627.5 L784.5,630.5 L784.5,631.5 L787.5,635.5 L789.5,635.5 M801.5,628.5 L806.5,633.5 L803.5,635.5 L801.5,635.5" stroke="#00ffff" stroke-width="1" fill="none"/>
<rect x="210" y="149" width="341" height="1" fill="#00ffff" />
<rect x="210" y="152" width="341" height="1" fill="#00ffff" />
<path d="M214.5,149.5 L217.5,146.5 L218.5,146.5 L223.5,154.5 L224.5,154.5 L226.5,152.5 M226.5,149.5 L229.5,146.5 L230.5,146.5 L235.5,154.5 L236.5,154.5 L238.5,152.5 M238.5,149.5 L241.5,146.5 L242.5,146.5 L247.5,154.5 L248.5,154.5 L250.5,152.5 M250.5,149.5 L253.5,146.5 L254.5,146.5 L259.5,154.5 L260.5,154.5 L262.5,152.5 M262.5,149.5 L265.5,146.5 L266.5,146.5 L271.5,154.5 L272.5,154.5 L274.5,152.5 M274.5,149.5 L277.5,146.5 L278.5,146.5 L283.5,154.5 L284.5,154.5 L286.5,152.5 M287.5,149.5 L290.5,146.5 L291.5,146.5 L296.5,154.5 L297.5,154.5 L299.5,152.5 M299.5,149.5 L302.5,146.5 L303.5,146.5 L308.5,154.5 L309.5,154.5 L311.5,152.5 M311.5,149.5 L314.5,146.5 L315.5,146.5 L320.5,154.5 L321.5,154.5 L323.5,152.5 M323.5,149.5 L326.5,146.5 L327.5,146.5 L332.5,154.5 L333.5,154.5 L335.5,152.5 M335.5,149.5 L338.5,146.5 L339.5,146.5 L344.5,154.5 L345.5,154.5 L347.5,152.5 M347.5,149.5 L350.5,146.5 L351.5,146.5 L356.5,154.5 L357.5,154.5 L359.5,152.5 M359.5,149.5 L362.5,146.5 L363.5,146.5 L368.5,154.5 L369.5,154.5 L371.5,152.5 M371.5,149.5 L374.5,146.5 L375.5,146.5 L380.5,154.5 L381.5,154.5 L383.5,152.5 M383.5,149.5 L386.5,146.5 L387.5,146.5 L392.5,154.5 L393.5,154.5 L395.5,152.5 M395.5,149.5 L398.5,146.5 L399.5,146.5 L404.5,154.5 L405.5,154.5 L407.5,152.5 M407.5,149.5 L410.5,146.5 L411.5,146.5 L416.5,154.5 L417.5,154.5 L419.5,152.5 M420.5,149.5 L423.5,146.5 L424.5,146.5 L429.5,154.5 L430.5,154.5 L432.5,152.5 M432.5,149.5 L435.5,146.5 L436.5,146.5 L441.5,154.5 L442.5,154.5 L444.5,152.5 M444.5,149.5 L447.5,146.5 L448.5,146.5 L453.5,154.5 L454.5,154.5 L456.5,152.5 M456.5,149.5 L459.5,146.5 L460.5,146.5 L465.5,154.5 L466.5,154.5 L468.5,152.5 M468.5,149.5 L471.5,146.5 L472.5,146.5 L477.5,154.5 L478.5,154.5 L480.5,152.5 M480.5,149.5 L483.5,146.5 L484.5,146.5 L489.5,154.5 L490.5,154.5 L492.5,152.5 M492.5,149.5 L495.5,146.5 L496.5,146.5 L501.5,154.5 L502.5,154.5 L504.5,152.5 M504.5,149.5 L507.5,146.5 L508.5,146.5 L513.5,154.5 L514.5,154.5 L516.5,152.5 M516.5,149.5 L519.5,146.5 L520.5,146.5 L525.5,154.5 L526.5,154.5 L528.5,152.5 M528.5,149.5 L531.5,146.5 L532.5,146.5 L537.5,154.5 L538.5,154.5 L540.5,152.5 M540.5,149.5 L543.5,146.5 L544.5,146.5 L549.5,154.5 L550.5,154.5 L552.5,152.5" stroke="#00ffff" stroke-width="1" fill="none"/>
<rect x="206" y="146" width="1" height="10" fill="#00ffff" />
<rect x="554" y="146" width="1" height="10" fill="#00ffff" />
<circle cx="211.5" cy="151.5" r="3.5" fill="#00ffff" stroke="#000" stroke-width="1" shape-rendering="auto"/>
<rect x="546.5" y="149.5" width="5" height="4" fill="#00ffff" stroke="#000000" stroke-width="1"/>
<rect x="268" y="188" width="178" height="1" fill="#00ffff" />
<rect x="268" y="191" width="178" height="1" fill="#00ffff" />
<path d="M272.5,188.5 L275.5,185.5 L276.5,185.5 L281.5,193.5 L282.5,193.5 L284.5,191.5 M284.5,188.5 L287.5,185.5 L288.5,185.5 L293.5,193.5 L294.5,193.5 L296.5,191.5 M296.5,188.5 L299.5,185.5 L300.5,185.5 L305.5,193.5 L306.5,193.5 L308.5,191.5 M308.5,188.5 L311.5,185.5 L312.5,185.5 L317.5,193.5 L318.5,193.5 L320.5,191.5 M320.5,188.5 L323.5,185.5 L324.5,185.5 L329.5,193.5 L330.5,193.5 L332.5,191.5 M332.5,188.5 L335.5,185.5 L336.5,185.5 L341.5,193.5 L342.5,193.5 L344.5,191.5 M344.5,188.5 L347.5,185.5 L348.5,185.5 L353.5,193.5 L354.5,193.5 L356.5,191.5 M356.5,188.5 L359.5,185.5 L360.5,185.5 L365.5,193.5 L366.5,193.5 L368.5,191.5 M368.5,188.5 L371.5,185.5 L372.5,185.5 L377.5,193.5 L378.5,193.5 L380.5,191.5 M380.5,188.5 L383.5,185.5 L384.5,185.5 L389.5,193.5 L390.5,193.5 L392.5,191.5 M392.5,188.5 L395.5,185.5 L396.5,185.5 L401.5,193.5 L402.5,193.5 L404.5,191.5 M404.5,188.5 L407.5,185.5 L408.5,185.5 L413.5,193.5 L414.5,193.5 L416.5,191.5 M416.5,188.5 L419.5,185.5 L420.5,185.5 L425.5,193.5 L426.5,193.5 L428.5,191.5 M428.5,188.5 L431.5,185.5 L432.5,185.5 L437.5,193.5 L438.5,193.5 L440.5,191.5" stroke="#00ffff" stroke-width="1" fill="none"/>
<rect x="264" y="185" width="1" height="10" fill="#00ffff" />
<rect x="449" y="185" width="1" height="10" fill="#00ffff" />
<circle cx="269.5" cy="190.5" r="3.5" fill="#00ffff" stroke="#000" stroke-width="1" shape-rendering="auto"/>
<rect x="274.5" y="188.5" width="5" height="4" fill="#00ffff" stroke="#000000" stroke-width="1"/>
<rect x="666" y="586" width="115" height="1" fill="#00ffff" />
<rect x="666" y="589" width="115" height="1" fill="#00ffff" />
<path d="M673.5,586.5 L676.5,583.5 L677.5,583.5 L682.5,591.5 L683.5,591.5 L685.5,589.5 M685.5,586.5 L688.5,583.5 L689.5,583.5 L694.5,591.5 L695.5,591.5 L697.5,589.5 M697.5,586.5 L700.5,583.5 L701.5,583.5 L706.5,591.5 L707.5,591.5 L709.5,589.5 M709.5,586.5 L712.5,583.5 L713.5,583.5 L718.5,591.5 L719.5,591.5 L721.5,589.5 M721.5,586.5 L724.5,583.5 L725.5,583.5 L730.5,591.5 L731.5,591.5 L733.5,589.5 M733.5,586.5 L736.5,583.5 L737.5,583.5 L742.5,591.5 L743.5,591.5 L745.5,589.5 M745.5,586.5 L748.5,583.5 L749.5,583.5 L754.5,591.5 L755.5,591.5 L757.5,589.5 M757.5,586.5 L760.5,583.5 L761.5,583.5 L766.5,591.5 L767.5,591.5 L769.5,589.5 M769.5,586.5 L772.5,583.5 L773.5,583.5 L778.5,591.5 L779.5,591.5 L781.5,589.5" stroke="#00ffff" stroke-width="1" fill="none"/>
<rect x="784" y="583" width="1" height="10" fill="#00ffff" />
<circle cx="667.5" cy="588.5" r="3.5" fill="#00ffff" stroke="#000" stroke-width="1" shape-rendering="auto"/>
<rect x="776.5" y="586.5" width="5" height="4" fill="#00ffff" stroke="#000000" stroke-width="1"/>
<rect x="228" y="642" width="27" height="1" fill="#00ffff" />
<rect x="228" y="645" width="27" height="1" fill="#00ffff" />
<path d="M232.5,642.5 L235.5,639.5 L236.5,639.5 L241.5,647.5 L242.5,647.5 L244.5,645.5 M244.5,642.5 L247.5,639.5 L248.5,639.5 L253.5,647.5 L254.5,647.5 L256.5,645.5" stroke="#00ffff" stroke-width="1" fill="none"/>
<rect x="224" y="639" width="1" height="10" fill="#00ffff" />
<rect x="258" y="639" width="1" height="10" fill="#00ffff" />
<rect x="226.5" y="642.5" width="5" height="4" fill="#00ffff" stroke="#000000" stroke-width="1"/>
<circle cx="253.5" cy="644.5" r="3.5" fill="#00ffff" stroke="#000" stroke-width="1" shape-rendering="auto"/>
<rect x="604" y="106" width="3" height="9" fill="#ffff00" />
<polygon points="602.5,114 608.5,114 605.5,118" fill="#ffff00" />
<rect x="568" y="192" width="3" height="9" fill="#ffff00" />
<polygon points="566.5,200 572.5,200 569.5,204" fill="#ffff00" />
<rect x="511" y="236" width="9" height="2" fill="#00ffff" />
<rect x="507" y="239" width="19" height="2" fill="#ffff00" />
<rect x="524" y="239" width="2" height="6" fill="#ffff00" />
<rect x="511" y="242" width="9" height="2" fill="#00ffff" />
<rect x="547" y="236" width="9" height="2" fill="#00ffff" />
<rect x="543" y="239" width="19" height="2" fill="#ffff00" />
<rect x="560" y="239" width="2" height="6" fill="#ffff00" />
<rect x="547" y="242" width="9" height="2" fill="#00ffff" />
<rect x="583" y="236" width="9" height="2" fill="#00ffff" />
<rect x="579" y="239" width="19" height="2" fill="#ffff00" />
<rect x="596" y="239" width="2" height="6" fill="#ffff00" />
<rect x="583" y="242" width="9" height="2" fill="#00ffff" />
<rect x="619" y="236" width="9" height="2" fill="#00ffff" />
<rect x="615" y="239" width="19" height="2" fill="#ffff00" />
<rect x="632" y="239" width="2" height="6" fill="#ffff00" />
<rect x="619" y="242" width="9" height="2" fill="#00ffff" />
<rect x="667" y="236" width="9" height="2" fill="#00ffff" />
<rect x="663" y="239" width="19" height="2" fill="#ffff00" />
<rect x="680" y="239" width="2" height="6" fill="#ffff00" />
<rect x="667" y="242" width="9" height="2" fill="#00ffff" />
<rect x="703" y="236" width="9" height="2" fill="#00ffff" />
<rect x="699" y="239" width="19" height="2" fill="#ffff00" />
<rect x="716" y="239" width="2" height="6" fill="#ffff00" />
<rect x="703" y="242" width="9" height="2" fill="#00ffff" />
<rect x="739" y="236" width="9" height="2" fill="#00ffff" />
<rect x="735" y="239" width="19" height="2" fill="#ffff00" />
<rect x="752" y="239" width="2" height="6" fill="#ffff00" />
<rect x="739" y="242" width="9" height="2" fill="#00ffff" />
<rect x="775" y="236" width="9" height="2" fill="#00ffff" />
<rect x="771" y="239" width="19" height="2" fill="#ffff00" />
<rect x="788" y="239" width="2" height="6" fill="#ffff00" />
<rect x="775" y="242" width="9" height="2" fill="#00ffff" />
<rect x="839" y="236" width="9" height="2" fill="#00ffff" />
<rect x="835" y="239" width="19" height="2" fill="#ffff00" />
<rect x="852" y="239" width="2" height="6" fill="#ffff00" />
<rect x="839" y="242" width="9" height="2" fill="#00ffff" />
<rect x="639" y="195" width="9" height="2" fill="#00ffff" />
<rect x="635" y="198" width="19" height="2" fill="#ffff00" />
<rect x="652" y="198" width="2" height="6" fill="#ffff00" />
<rect x="639" y="201" width="9" height="2" fill="#00ffff" />
<rect x="27.5" y="172.5" width="9" height="29" fill="#00ffff" stroke="#000000" stroke-width="1"/>
<polygon points="27.5,201.5 36.5,201.5 32.5,213.5 31.5,213.5" fill="#00ffff" stroke="#000000" stroke-width="1" />
<rect x="40.5" y="172.5" width="9" height="29" fill="#00ffff" stroke="#000000" stroke-width="1"/>
<polygon points="40.5,201.5 49.5,201.5 45.5,213.5 44.5,213.5" fill="#00ffff" stroke="#000000" stroke-width="1" />
<rect x="28.5" y="216.5" width="2" height="34" fill="#00ffff" stroke="#000000" stroke-width="1"/>
<rect x="46.5" y="216.5" width="2" height="34" fill="#00ffff" stroke="#000000" stroke-width="1"/>
<polygon points="30.5,216.5 46.5,216.5 46.5,220.5 43.5,228.5 34.5,228.5 30.5,220.5" fill="#00ffff" stroke="#000000" stroke-width="1" />
<rect x="30" y="229" width="17" height="1" fill="#000000" />
<polygon points="35.5,229.5 42.5,229.5 40.5,234.5 37.5,234.5" fill="#00ffff" stroke="#000000" stroke-width="1" />
<rect x="25" y="215" width="27" height="2" fill="#000000" />
<polygon points="25,217 28,217 28,220" fill="#000000" />
<polygon points="52,217 49,217 49,220" fill="#000000" />
<polygon points="45.3,244.6 41.6,248.3 36.4,248.3 32.7,244.6 32.7,239.4 36.4,235.7 41.6,235.7 45.3,239.4" fill="#00ffff" stroke="#000000" stroke-width="1" shape-rendering="auto"/>
<circle cx="39" cy="242" r="3.3" fill="none" stroke="#000" stroke-width="1" shape-rendering="auto"/>
<rect x="936.5" y="172.5" width="9" height="29" fill="#00ffff" stroke="#000000" stroke-width="1"/>
<polygon points="936.5,201.5 945.5,201.5 941.5,213.5 940.5,213.5" fill="#00ffff" stroke="#000000" stroke-width="1" />
<rect x="949.5" y="172.5" width="9" height="29" fill="#00ffff" stroke="#000000" stroke-width="1"/>
<polygon points="949.5,201.5 958.5,201.5 954.5,213.5 953.5,213.5" fill="#00ffff" stroke="#000000" stroke-width="1" />
<rect x="937.5" y="216.5" width="2" height="34" fill="#00ffff" stroke="#000000" stroke-width="1"/>
<rect x="955.5" y="216.5" width="2" height="34" fill="#00ffff" stroke="#000000" stroke-width="1"/>
<polygon points="939.5,216.5 955.5,216.5 955.5,220.5 952.5,228.5 943.5,228.5 939.5,220.5" fill="#00ffff" stroke="#000000" stroke-width="1" />
<rect x="939" y="229" width="17" height="1" fill="#000000" />
<polygon points="944.5,229.5 951.5,229.5 949.5,234.5 946.5,234.5" fill="#00ffff" stroke="#000000" stroke-width="1" />
<rect x="934" y="215" width="27" height="2" fill="#000000" />
<polygon points="934,217 937,217 937,220" fill="#000000" />
<polygon points="961,217 958,217 958,220" fill="#000000" />
<polygon points="954.3,244.6 950.6,248.3 945.4,248.3 941.7,244.6 941.7,239.4 945.4,235.7 950.6,235.7 954.3,239.4" fill="#00ffff" stroke="#000000" stroke-width="1" shape-rendering="auto"/>
<circle cx="948" cy="242" r="3.3" fill="none" stroke="#000" stroke-width="1" shape-rendering="auto"/>
<rect x="27.5" y="323.5" width="9" height="29" fill="#00ffff" stroke="#000000" stroke-width="1"/>
<polygon points="27.5,352.5 36.5,352.5 32.5,364.5 31.5,364.5" fill="#00ffff" stroke="#000000" stroke-width="1" />
<rect x="40.5" y="323.5" width="9" height="29" fill="#00ffff" stroke="#000000" stroke-width="1"/>
<polygon points="40.5,352.5 49.5,352.5 45.5,364.5 44.5,364.5" fill="#00ffff" stroke="#000000" stroke-width="1" />
<rect x="28.5" y="367.5" width="2" height="34" fill="#00ffff" stroke="#000000" stroke-width="1"/>
<rect x="46.5" y="367.5" width="2" height="34" fill="#00ffff" stroke="#000000" stroke-width="1"/>
<polygon points="30.5,367.5 46.5,367.5 46.5,371.5 43.5,379.5 34.5,379.5 30.5,371.5" fill="#00ffff" stroke="#000000" stroke-width="1" />
<rect x="30" y="380" width="17" height="1" fill="#000000" />
<polygon points="35.5,380.5 42.5,380.5 40.5,385.5 37.5,385.5" fill="#00ffff" stroke="#000000" stroke-width="1" />
<rect x="25" y="366" width="27" height="2" fill="#000000" />
<polygon points="25,368 28,368 28,371" fill="#000000" />
<polygon points="52,368 49,368 49,371" fill="#000000" />
<polygon points="45.3,395.6 41.6,399.3 36.4,399.3 32.7,395.6 32.7,390.4 36.4,386.7 41.6,386.7 45.3,390.4" fill="#00ffff" stroke="#000000" stroke-width="1" shape-rendering="auto"/>
<circle cx="39" cy="393" r="3.3" fill="none" stroke="#000" stroke-width="1" shape-rendering="auto"/>
<rect x="64.5" y="221.5" width="11" height="20" fill="#00ffff" stroke="#000000" stroke-width="1"/>
<rect x="65" y="224" width="10" height="1" fill="#000000" />
<rect x="65" y="227" width="10" height="1" fill="#000000" />
<rect x="65" y="230" width="10" height="1" fill="#000000" />
<rect x="65" y="233" width="10" height="1" fill="#000000" />
<rect x="65" y="236" width="10" height="1" fill="#000000" />
<rect x="65" y="239" width="10" height="1" fill="#000000" />
<rect x="63" y="224" width="1" height="15" fill="#000000" />
<rect x="75.5" y="225.5" width="9" height="20" fill="#00ffff" stroke="#000000" stroke-width="1"/>
<rect x="75" y="235" width="10" height="1" fill="#000000" />
<path d="M84.5,225.5 h1.5 a3,5 0 0 1 0,10 h-1.5 z" fill="#00ffff" stroke="#000" stroke-width="1" shape-rendering="auto"/>
<rect x="64.5" y="245.5" width="24" height="4" fill="#00ffff" stroke="#000000" stroke-width="1"/>
<rect x="972.5" y="220.5" width="11" height="20" fill="#00ffff" stroke="#000000" stroke-width="1"/>
<rect x="973" y="223" width="10" height="1" fill="#000000" />
<rect x="973" y="226" width="10" height="1" fill="#000000" />
<rect x="973" y="229" width="10" height="1" fill="#000000" />
<rect x="973" y="232" width="10" height="1" fill="#000000" />
<rect x="973" y="235" width="10" height="1" fill="#000000" />
<rect x="973" y="238" width="10" height="1" fill="#000000" />
<rect x="971" y="223" width="1" height="15" fill="#000000" />
<rect x="983.5" y="224.5" width="9" height="20" fill="#00ffff" stroke="#000000" stroke-width="1"/>
<rect x="983" y="234" width="10" height="1" fill="#000000" />
<path d="M992.5,224.5 h1.5 a3,5 0 0 1 0,10 h-1.5 z" fill="#00ffff" stroke="#000" stroke-width="1" shape-rendering="auto"/>
<rect x="972.5" y="244.5" width="24" height="4" fill="#00ffff" stroke="#000000" stroke-width="1"/>
<rect x="64.5" y="372.5" width="11" height="20" fill="#00ffff" stroke="#000000" stroke-width="1"/>
<rect x="65" y="375" width="10" height="1" fill="#000000" />
<rect x="65" y="378" width="10" height="1" fill="#000000" />
<rect x="65" y="381" width="10" height="1" fill="#000000" />
<rect x="65" y="384" width="10" height="1" fill="#000000" />
<rect x="65" y="387" width="10" height="1" fill="#000000" />
<rect x="65" y="390" width="10" height="1" fill="#000000" />
<rect x="63" y="375" width="1" height="15" fill="#000000" />
<rect x="75.5" y="376.5" width="9" height="20" fill="#00ffff" stroke="#000000" stroke-width="1"/>
<rect x="75" y="386" width="10" height="1" fill="#000000" />
<path d="M84.5,376.5 h1.5 a3,5 0 0 1 0,10 h-1.5 z" fill="#00ffff" stroke="#000" stroke-width="1" shape-rendering="auto"/>
<rect x="64.5" y="396.5" width="24" height="4" fill="#00ffff" stroke="#000000" stroke-width="1"/>
<rect x="895.5" y="433.5" width="11" height="6" fill="#00ffff" stroke="#000000" stroke-width="1"/>
<rect x="885.5" y="440.5" width="31" height="27" fill="#00ffff" stroke="#000000" stroke-width="1"/>
<rect x="885.5" y="447.5" width="7" height="11" fill="#00ffff" stroke="#000000" stroke-width="1"/>
<polygon points="885.5,467.5 916.5,467.5 907.5,484.5 895.5,484.5" fill="#00ffff" stroke="#000000" stroke-width="1" />
<rect x="835.5" y="605.5" width="11" height="6" fill="#00ffff" stroke="#000000" stroke-width="1"/>
<rect x="825.5" y="612.5" width="31" height="27" fill="#00ffff" stroke="#000000" stroke-width="1"/>
<rect x="825.5" y="619.5" width="7" height="11" fill="#00ffff" stroke="#000000" stroke-width="1"/>
<polygon points="825.5,639.5 856.5,639.5 847.5,656.5 835.5,656.5" fill="#00ffff" stroke="#000000" stroke-width="1" />
<defs><pattern id="hatch" patternUnits="userSpaceOnUse" x="0" y="0" width="5" height="5">
<rect width="5" height="5" fill="#005050"/>
<rect x="0" y="4" width="1" height="1" fill="#000"/><rect x="1" y="3" width="1" height="1" fill="#000"/>
<rect x="2" y="2" width="1" height="1" fill="#000"/><rect x="3" y="1" width="1" height="1" fill="#000"/>
<rect x="4" y="0" width="1" height="1" fill="#000"/></pattern></defs>
<polygon points="6,444 157,444 164,445 164,450 158,458 157,458 157,449 6,449" fill="url(#hatch)" />
<rect x="6" y="449" width="151" height="1" fill="#00ffff" />
<rect x="6" y="453" width="149" height="5" fill="#003c3c" />
<rect x="6" y="458" width="151" height="1" fill="#00ffff" />
<path d="M153,449.5 L157.5,449.5 L160.5,452.5 L160.5,455.5 L157.5,458.5 L153,458.5" fill="none" stroke="#00ffff" stroke-width="1"/>
<circle cx="156.5" cy="454" r="3" fill="#00ffff" stroke="#000" stroke-width="2" shape-rendering="auto"/>
<polygon points="947,474 952,469 1019,469 1019,474" fill="url(#hatch)" />
<rect x="948" y="474" width="71" height="1" fill="#00ffff" />
<rect x="948" y="478" width="71" height="5" fill="#003c3c" />
<rect x="948" y="483" width="71" height="1" fill="#00ffff" />
<path d="M953,474.5 L948.5,474.5 L945.5,477.5 L945.5,480.5 L948.5,483.5 L953,483.5" fill="none" stroke="#00ffff" stroke-width="1"/>
<circle cx="950.5" cy="479" r="3" fill="#00ffff" stroke="#000" stroke-width="2" shape-rendering="auto"/>
<rect x="955.5" y="476.5" width="5" height="4" fill="#00ffff" stroke="#000000" stroke-width="1"/>
<polygon points="811,685 816,680 1019,680 1019,685" fill="url(#hatch)" />
<rect x="812" y="685" width="207" height="1" fill="#00ffff" />
<rect x="812" y="689" width="207" height="5" fill="#003c3c" />
<rect x="812" y="694" width="207" height="1" fill="#00ffff" />
<path d="M817,685.5 L812.5,685.5 L809.5,688.5 L809.5,691.5 L812.5,694.5 L817,694.5" fill="none" stroke="#00ffff" stroke-width="1"/>
<circle cx="814.5" cy="690" r="3" fill="#00ffff" stroke="#000" stroke-width="2" shape-rendering="auto"/>
<rect x="819.5" y="687.5" width="5" height="4" fill="#00ffff" stroke="#000000" stroke-width="1"/>
<polygon points="235,256 242,248 273,248 266,256" fill="#409898" />
<rect x="235" y="256" width="31" height="62" fill="#52c2c2" />
<polygon points="266,256 273,248 273,311 266,318" fill="#5cdcdc" />
<polygon points="235,318 266,318 273,311 273,314 251,326 250,326" fill="#4aa8a8" />
<rect x="247.5" y="265.5" width="6" height="4" fill="#00ffff" stroke="#000000" stroke-width="1"/>
<rect x="247.5" y="309.5" width="6" height="4" fill="#00ffff" stroke="#000000" stroke-width="1"/>
<rect x="212.5" y="336.5" width="6" height="4" fill="#00ffff" stroke="#000000" stroke-width="1"/>
<path d="M221.5,333.5 q0,-3 3,-3 h5 v10 h-5 q-3,0 -3,-3 z" fill="#00ffff" stroke="#000" stroke-width="1"/>
<rect x="229" y="332" width="3" height="7" fill="#000000" />
<rect x="230" y="333" width="1" height="5" fill="#00ffff" />
<rect x="232.5" y="330.5" width="30" height="10" fill="#00ffff" stroke="#000000" stroke-width="1"/>
<rect x="232" y="328" width="1" height="15" fill="#000000" />
<rect x="241.5" y="347.5" width="36" height="14" fill="#00ffff" stroke="#000000" stroke-width="1"/>
<rect x="242" y="354" width="35" height="1" fill="#000000" />
<rect x="245.5" y="349.5" width="8" height="2" fill="#c0c0c0" stroke="#000000" stroke-width="1"/>
<rect x="263.5" y="349.5" width="8" height="2" fill="#c0c0c0" stroke="#000000" stroke-width="1"/>
<rect x="254.5" y="357.5" width="8" height="2" fill="#c0c0c0" stroke="#000000" stroke-width="1"/>
<rect x="238" y="352" width="3" height="5" fill="#000000" />
<rect x="278" y="349" width="2" height="11" fill="#000000" />
<path d="M280.5,349.5 h4 q3,0 3,3 v4 q0,3 -3,3 h-4 z" fill="#00ffff" stroke="#000" stroke-width="1"/>
<rect x="289.5" y="355.5" width="6" height="4" fill="#00ffff" stroke="#000000" stroke-width="1"/>
<path d="M229.5,370.5 q0,-4 4,-4 h7 v31 h-7 q-4,0 -4,-4 z" fill="#c0c0c0" stroke="#000" stroke-width="1"/>
<rect x="224" y="370" width="5" height="24" fill="#000000" />
<rect x="236" y="367" width="1" height="30" fill="#000000" />
<rect x="230" y="376" width="11" height="1" fill="#000000" />
<rect x="230" y="387" width="11" height="1" fill="#000000" />
<rect x="240.5" y="366.5" width="33" height="31" fill="#00ffff" stroke="#000000" stroke-width="1"/>
<rect x="251" y="366" width="1" height="32" fill="#000000" />
<rect x="262" y="366" width="1" height="32" fill="#000000" />
<rect x="244.5" y="369.5" width="4" height="4" fill="#00ffff" stroke="#000000" stroke-width="1"/>
<rect x="273.5" y="366.5" width="5" height="36" fill="#c0c0c0" stroke="#000000" stroke-width="1"/>
<rect x="233.5" y="397.5" width="40" height="5" fill="#c0c0c0" stroke="#000000" stroke-width="1"/>
<rect x="235.5" y="402.5" width="42" height="92" fill="#c0c0c0" stroke="#000000" stroke-width="1"/>
<polygon points="250,403 263,403 277.5,494 235.5,494" fill="#00ffff" stroke="#000000" stroke-width="1" />
<rect x="252.5" y="416.5" width="6" height="4" fill="#00ffff" stroke="#000000" stroke-width="1"/>
<rect x="252.5" y="481.5" width="6" height="4" fill="#00ffff" stroke="#000000" stroke-width="1"/>
<rect x="235.5" y="494.5" width="41" height="29" fill="#00ffff" stroke="#000000" stroke-width="1"/>
<rect x="238.5" y="497.5" width="36" height="23" fill="#00ffff" stroke="#000000" stroke-width="1"/>
<circle cx="247.5" cy="508.5" r="6" fill="#c0c0c0" stroke="#000" stroke-width="1" shape-rendering="auto"/>
<rect x="247" y="508" width="1" height="1" fill="#000000" />
<circle cx="263.5" cy="508.5" r="6" fill="#c0c0c0" stroke="#000" stroke-width="1" shape-rendering="auto"/>
<rect x="263" y="508" width="1" height="1" fill="#000000" />
<polygon points="243.5,523.5 269.5,523.5 264.5,536.5 248.5,536.5" fill="#c0c0c0" stroke="#000000" stroke-width="1" />
<rect x="252.5" y="582.5" width="25" height="19" fill="#00ffff" stroke="#000000" stroke-width="1"/>
<rect x="235.5" y="590.5" width="9" height="13" fill="#00ffff" stroke="#000000" stroke-width="1"/>
<rect x="277.5" y="598.5" width="9" height="25" fill="#00ffff" stroke="#000000" stroke-width="1"/>
<path d="M282.5,605.5 l2.5,2.5 l-2.5,2.5 l-2.5,-2.5 z" fill="none" stroke="#000" stroke-width="1"/>
<polygon points="236.5,613.5 238.5,613.5 240.5,623.5 234.5,623.5" fill="#00ffff" stroke="#000000" stroke-width="1" />
<polygon points="236.5,612.5 277.5,602.5 277.5,612.5" fill="#00ffff" stroke="#000000" stroke-width="1" />
<polygon points="228.5,605.5 292.5,590.5 292.5,598.5 228.5,613.5" fill="#00ffff" stroke="#000000" stroke-width="1" />
<rect x="228.5" y="623.5" width="64" height="2" fill="#00ffff" stroke="#000000" stroke-width="1"/>
<rect x="934.5" y="537.5" width="55" height="28" fill="#00ffff" stroke="#000000" stroke-width="1"/>
<polygon points="934.5,565.5 961.5,565.5 948.5,578.5" fill="#00ffff" stroke="#000000" stroke-width="1" />
<polygon points="961.5,565.5 989.5,565.5 975.5,578.5" fill="#00ffff" stroke="#000000" stroke-width="1" />
<polygon points="934.5,565.5 934.5,578.5 928.5,578.5" fill="#00ffff" stroke="#000000" stroke-width="1" />
<polygon points="989.5,565.5 989.5,578.5 996.5,578.5" fill="#00ffff" stroke="#000000" stroke-width="1" />
<path d="M979.5,651.5 L979.5,600 Q979.5,592.5 999,592.5 Q1018.5,592.5 1018.5,600 L1018.5,651.5 Z" fill="#800000" stroke="#000" stroke-width="1" shape-rendering="auto"/>
<rect x="980" y="602" width="38" height="1" fill="#000000" />
<rect x="980" y="607" width="38" height="1" fill="#000000" />
<rect x="980" y="612" width="38" height="1" fill="#000000" />
<rect x="980" y="617" width="38" height="1" fill="#000000" />
<rect x="980" y="622" width="38" height="1" fill="#000000" />
<rect x="980" y="627" width="38" height="1" fill="#000000" />
<rect x="980" y="632" width="38" height="1" fill="#000000" />
<rect x="980" y="636" width="38" height="1" fill="#000000" />
<rect x="980" y="641" width="38" height="1" fill="#000000" />
<rect x="980" y="646" width="38" height="1" fill="#000000" />
<rect x="988.5" y="651.5" width="2" height="9" fill="#a0a0a0" stroke="#000000" stroke-width="1"/>
<rect x="1007.5" y="651.5" width="2" height="9" fill="#a0a0a0" stroke="#000000" stroke-width="1"/>
<rect x="976.5" y="660.5" width="44" height="3" fill="#a0a0a0" stroke="#000000" stroke-width="1"/>
<rect x="981.5" y="655.5" width="4" height="14" fill="#d8d8d8" stroke="#000000" stroke-width="1"/>
<rect x="1012.5" y="655.5" width="4" height="14" fill="#d8d8d8" stroke="#000000" stroke-width="1"/>
<path d="M1001.5,68.5 h9.5 l3.5,4.5 v10 l3.5,5 h-24 l3.5,-5 v-10 z" fill="#00ffff"/>
<path d="M994,88 L997.5,83 V73 L1001.5,68.5 H1011" fill="none" stroke="#000" stroke-width="1"/>
<path d="M1011,68.5 L1014.5,73 V83 L1018,88 H994" fill="none" stroke="#fff" stroke-width="1"/>
<polygon points="1005,88 1011,88 1008,92" fill="#00ffff" />
<path d="M33.5,600 C33.5,593 23,593 23.5,601 C23.5,605 26,608 28,609" fill="none" stroke="#000" stroke-width="3.6" shape-rendering="auto"/>
<path d="M33.5,600 C33.5,593 23,593 23.5,601 C23.5,605 26,608 28,609" fill="none" stroke="#00ffff" stroke-width="1.6" shape-rendering="auto"/>
<rect x="27.5" y="607.5" width="24" height="4" fill="#00ffff" stroke="#000000" stroke-width="1"/>
<rect x="51.5" y="608.5" width="4" height="3" fill="#00ffff" stroke="#000000" stroke-width="1"/>
<circle cx="33.5" cy="603" r="3.5" fill="#00ffff" stroke="#000" stroke-width="1" shape-rendering="auto"/>
<circle cx="47" cy="603" r="3" fill="#00ffff" stroke="#000" stroke-width="1" shape-rendering="auto"/>
<rect x="53.5" y="600.5" width="4" height="4" fill="#00ffff" stroke="#000000" stroke-width="1"/>
<path d="M33.5,656 C33.5,649 23,649 23.5,657 C23.5,661 26,664 28,665" fill="none" stroke="#000" stroke-width="3.6" shape-rendering="auto"/>
<path d="M33.5,656 C33.5,649 23,649 23.5,657 C23.5,661 26,664 28,665" fill="none" stroke="#00ffff" stroke-width="1.6" shape-rendering="auto"/>
<rect x="27.5" y="663.5" width="24" height="4" fill="#00ffff" stroke="#000000" stroke-width="1"/>
<rect x="51.5" y="664.5" width="4" height="3" fill="#00ffff" stroke="#000000" stroke-width="1"/>
<circle cx="33.5" cy="659" r="3.5" fill="#00ffff" stroke="#000" stroke-width="1" shape-rendering="auto"/>
<circle cx="47" cy="659" r="3" fill="#00ffff" stroke="#000" stroke-width="1" shape-rendering="auto"/>
<rect x="53.5" y="656.5" width="4" height="4" fill="#00ffff" stroke="#000000" stroke-width="1"/>
<rect x="50" y="0" width="1" height="39" fill="#aca899" />
<rect x="51" y="0" width="1" height="39" fill="#ffffff" />
<rect x="237" y="0" width="1" height="39" fill="#aca899" />
<rect x="238" y="0" width="1" height="39" fill="#ffffff" />
<rect x="424" y="0" width="1" height="39" fill="#aca899" />
<rect x="425" y="0" width="1" height="39" fill="#ffffff" />
<rect x="896" y="0" width="1" height="39" fill="#aca899" />
<rect x="897" y="0" width="1" height="39" fill="#ffffff" />
<defs><pattern id="dots" patternUnits="userSpaceOnUse" width="2" height="2">
<rect x="0" y="0" width="1" height="1" fill="#7890a8"/><rect x="1" y="1" width="1" height="1" fill="#7890a8"/></pattern></defs>
<rect x="8" y="29" width="33" height="7" fill="url(#dots)" />
<rect x="8" y="29" width="10" height="1" fill="#000000" />
<rect x="33" y="29" width="8" height="1" fill="#000000" />
<rect x="17.5" y="5.5" width="16" height="24" fill="#708090" stroke="#000000" stroke-width="1"/>
<rect x="33" y="7" width="2" height="22" fill="#8aa0b8" />
<polygon points="25,13 33,6 33,28 25,36" fill="#d88838" stroke="#000" stroke-width="1.2" shape-rendering="auto"/>
<path d="M26,14 L32,8.5" stroke="#f8d8a8" stroke-width="1" shape-rendering="auto"/>
<rect x="27" y="21" width="2" height="3" fill="#207878" />
<path d="M71,12 H87 Q89,12 89,14 L88,16 H71 Z" fill="#000" shape-rendering="auto"/>
<path d="M72,13.5 H85 L87,15.5" stroke="#00ff00" stroke-width="1.3" fill="none" shape-rendering="auto"/>
<polygon points="72,16 86.5,16 77,25.5 66,25.5 66,21.5" fill="#708090" stroke="#000" stroke-width="1.2" shape-rendering="auto"/>
<path d="M67.5,22 H76 M78,21.5 L84,16.5" stroke="#000" stroke-width="1" shape-rendering="auto"/>
<path d="M70.5,24.5 L62.5,34" stroke="#000" stroke-width="3.4" stroke-linecap="round" shape-rendering="auto"/>
<path d="M70.5,24.5 L62.5,34" stroke="#8090a0" stroke-width="1.2" shape-rendering="auto"/>
<rect x="118.5" y="10.5" width="17" height="5" rx="2" fill="#fff" stroke="#707070" stroke-width="1.2" shape-rendering="auto"/>
<path d="M121,13 H133" stroke="#707070" stroke-width="1" stroke-dasharray="1,1" shape-rendering="auto"/>
<polygon points="113,17.5 127.5,17.5 119,27 107,27 107,24" fill="#ececec" stroke="#8c8c8c" stroke-width="1.1" shape-rendering="auto"/>
<path d="M112,26.5 L105.5,34" stroke="#8c8c8c" stroke-width="2.6" stroke-linecap="round" shape-rendering="auto"/>
<path d="M112,26.5 L105.5,34" stroke="#f4f4f4" stroke-width="0.9" shape-rendering="auto"/>
<g shape-rendering="auto"><circle cx="176" cy="21.5" r="7" fill="#a8a8a8"/><path d="M150,20 H166 L168,18.5 L170,20 V24 H150 Z" fill="#a8a8a8"/><circle cx="175" cy="19.5" r="6.5" fill="#f0f0f0" stroke="#909090" stroke-width="1"/><path d="M149,17 H168 V22.5 H160 L158,24.5 L155,22.5 H149 Z" fill="#f0f0f0" stroke="#909090" stroke-width="1"/><circle cx="176.5" cy="19.5" r="2" fill="#c8c8c8" stroke="#909090" stroke-width="0.8"/></g>
<g shape-rendering="auto"><rect x="198" y="20" width="6" height="15" rx="3" fill="#a0501c" stroke="#000" stroke-width="1"/><rect x="200" y="8" width="2" height="12" fill="#e8e8e8" stroke="#000" stroke-width="0.8"/><rect x="199.5" y="6" width="3" height="4" fill="#e8e8e8" stroke="#000" stroke-width="0.8"/><path d="M201,23 V32" stroke="#3a1a08" stroke-width="1"/><rect x="212" y="20" width="6" height="15" rx="3" fill="#a0501c" stroke="#000" stroke-width="1"/><path d="M215,23 V32" stroke="#3a1a08" stroke-width="1"/><rect x="214" y="10" width="2" height="10" fill="#e8e8e8" stroke="#000" stroke-width="0.8"/><path d="M207,6.5 H218 Q222,7 223,12 L221,12.5 Q219,10 217,10 H207 Z" fill="#e8e8e8" stroke="#000" stroke-width="1"/><path d="M213,8.5 H217" stroke="#2030ff" stroke-width="1.5"/></g>
<g shape-rendering="auto" fill="none" stroke="#505050" stroke-width="1"><polygon points="250,24 261,13 281,21 267,34" fill="#f4f4f4"/><polygon points="261,13 271,6 282,17 270,22" fill="#fafafa"/><path d="M255,25 l6,4 M257,22 l6,4 M259,19 l6,4 M261,16 l6,4" stroke="#707070"/><path d="M265,21 Q268,18 274,19 L280,22 V29 H275 Q270,28 266,24 Z" fill="#e8e8e8"/><circle cx="270" cy="22" r="1.8"/><rect x="279" y="22" width="2" height="7" fill="#505050"/></g>
<g shape-rendering="auto"><polygon points="309,7 323,33 295,33" fill="#c4c4c4" stroke="#c0c0c0" stroke-width="1.5" stroke-linejoin="round"/><polygon points="309,15 317,29 301,29" fill="#ffffff"/><rect x="308" y="18" width="2.2" height="7" fill="#505050"/><rect x="308" y="26" width="2.2" height="2" fill="#505050"/></g>
<g shape-rendering="auto"><path d="M337,14.5 H368 M337,21.5 H368" stroke="#d0d0d0" stroke-width="1"/><path d="M341.5,6 V33 M337,28.5 H369" stroke="#909090" stroke-width="1.2"/><path d="M339.5,8 L341.5,5 L343.5,8 M366,26.5 L369,28.5 L366,30.5" fill="none" stroke="#909090" stroke-width="1"/><rect x="344" y="24" width="2" height="4" fill="#a8a8a8"/><rect x="347" y="17" width="2" height="11" fill="#a8a8a8"/><rect x="350" y="13" width="2" height="15" fill="#a8a8a8"/><rect x="353" y="11" width="2" height="17" fill="#a0a0a0"/><rect x="356" y="18" width="2" height="10" fill="#a8a8a8"/><rect x="359" y="20" width="2" height="8" fill="#a8a8a8"/><rect x="362" y="18" width="2" height="10" fill="#a8a8a8"/><path d="M344,31 H364" stroke="#d8d8d8" stroke-width="1.5" stroke-dasharray="1.5,1.5"/></g>
<g shape-rendering="auto"><rect x="383.5" y="9.5" width="28" height="22" fill="#f4f4f4" stroke="#909090" stroke-width="1"/><rect x="384" y="10" width="27" height="8" fill="#a0a0a0"/><path d="M386,21 H389 M392,21 H394 M395,21 H399 M386,24 H388 M392,24 H394 M395,24 H399 M386,27 H388 M392,27 H394 M395,27 H399 M386,30 H388 M392,30 H397" stroke="#707070" stroke-width="1"/><path d="M408.5,19 V31" stroke="#d0d0d0" stroke-width="1"/></g>
<text x="562" y="27" font-family="Liberation Sans" font-size="19.4" font-weight="normal" fill="#000000" text-anchor="start" font-style="italic">ШКХП Комбикормовый завод</text>
<text x="924" y="27" font-family="Liberation Sans" font-size="19.6" font-weight="normal" fill="#000000" text-anchor="start" font-style="italic" textLength="74" lengthAdjust="spacingAndGlyphs">17:53:10</text>
<text x="995.5" y="148" font-family="Liberation Sans" font-size="11" font-weight="normal" fill="#ffffff" text-anchor="middle" letter-spacing="0.5">На ж/д</text>
<text x="995.5" y="161" font-family="Liberation Sans" font-size="11" font-weight="normal" fill="#ffffff" text-anchor="middle" letter-spacing="1">№3</text>
<text x="904" y="517" font-family="Liberation Sans" font-size="11" font-weight="normal" fill="#ffffff" text-anchor="middle" letter-spacing="0">На выбой</text>
<text x="999.5" y="443" font-family="Liberation Sans" font-size="11" font-weight="normal" fill="#ffffff" text-anchor="middle" letter-spacing="0.4">Мучной</text>
<text x="940" y="709" font-family="Liberation Sans" font-size="11" font-weight="normal" fill="#ffffff" text-anchor="middle" letter-spacing="0.4">Мучной</text>
<text x="652" y="620" font-family="Liberation Sans" font-size="11" font-weight="normal" fill="#ffffff" text-anchor="start" letter-spacing="0">из Б06</text>
<text x="692" y="620" font-family="Liberation Sans" font-size="11" font-weight="normal" fill="#ffffff" text-anchor="start" letter-spacing="0">из Б04</text>
<text x="950" y="614" font-family="Liberation Sans" font-size="11" font-weight="normal" fill="#ffffff" text-anchor="middle" letter-spacing="0.4">Погрузка</text>
<text x="950" y="628" font-family="Liberation Sans" font-size="11" font-weight="normal" fill="#ffffff" text-anchor="middle" letter-spacing="0">ж/д</text>
<text x="950" y="640" font-family="Liberation Sans" font-size="11" font-weight="normal" fill="#ffffff" text-anchor="middle" letter-spacing="0">вагонов</text>
<text x="950" y="651" font-family="Liberation Sans" font-size="11" font-weight="normal" fill="#ffffff" text-anchor="middle" letter-spacing="0">№ 3</text>
<text x="81" y="86" font-family="Liberation Sans" font-size="13" font-weight="bold" fill="#ffffff" text-anchor="start" textLength="25.0" lengthAdjust="spacingAndGlyphs">404</text>
<text x="174" y="156" font-family="Liberation Sans" font-size="13" font-weight="bold" fill="#ffffff" text-anchor="start" textLength="25.0" lengthAdjust="spacingAndGlyphs">409</text>
<text x="26" y="165" font-family="Liberation Sans" font-size="13" font-weight="bold" fill="#ffffff" text-anchor="start" textLength="25.0" lengthAdjust="spacingAndGlyphs">412</text>
<text x="63" y="213" font-family="Liberation Sans" font-size="13" font-weight="bold" fill="#ffffff" text-anchor="start" textLength="25.0" lengthAdjust="spacingAndGlyphs">413</text>
<text x="232" y="195" font-family="Liberation Sans" font-size="13" font-weight="bold" fill="#ffffff" text-anchor="start" textLength="25.0" lengthAdjust="spacingAndGlyphs">411</text>
<text x="26" y="316" font-family="Liberation Sans" font-size="13" font-weight="bold" fill="#ffffff" text-anchor="start" textLength="25.0" lengthAdjust="spacingAndGlyphs">306</text>
<text x="63" y="364" font-family="Liberation Sans" font-size="13" font-weight="bold" fill="#ffffff" text-anchor="start" textLength="25.0" lengthAdjust="spacingAndGlyphs">307</text>
<text x="115" y="478" font-family="Liberation Sans" font-size="13" font-weight="bold" fill="#ffffff" text-anchor="start" textLength="25.0" lengthAdjust="spacingAndGlyphs">202</text>
<text x="583" y="86" font-family="Liberation Sans" font-size="13" font-weight="bold" fill="#ffffff" text-anchor="start" textLength="25.0" lengthAdjust="spacingAndGlyphs">401</text>
<text x="567" y="118" font-family="Liberation Sans" font-size="13" font-weight="bold" fill="#ffffff" text-anchor="start" textLength="25.0" lengthAdjust="spacingAndGlyphs">631</text>
<text x="829" y="86" font-family="Liberation Sans" font-size="13" font-weight="bold" fill="#ffffff" text-anchor="start" textLength="25.0" lengthAdjust="spacingAndGlyphs">406</text>
<text x="935" y="165" font-family="Liberation Sans" font-size="13" font-weight="bold" fill="#ffffff" text-anchor="start" textLength="25.0" lengthAdjust="spacingAndGlyphs">414</text>
<text x="972" y="214" font-family="Liberation Sans" font-size="13" font-weight="bold" fill="#ffffff" text-anchor="start" textLength="25.0" lengthAdjust="spacingAndGlyphs">415</text>
<text x="583" y="204" font-family="Liberation Sans" font-size="13" font-weight="bold" fill="#ffffff" text-anchor="start" textLength="25.0" lengthAdjust="spacingAndGlyphs">670</text>
<text x="633" y="190" font-family="Liberation Sans" font-size="13" font-weight="bold" fill="#ffffff" text-anchor="start" textLength="25.0" lengthAdjust="spacingAndGlyphs">674</text>
<text x="907" y="431" font-family="Liberation Sans" font-size="13" font-weight="bold" fill="#ffffff" text-anchor="start" textLength="25.0" lengthAdjust="spacingAndGlyphs">209</text>
<text x="963" y="460" font-family="Liberation Sans" font-size="13" font-weight="bold" fill="#ffffff" text-anchor="start" textLength="25.0" lengthAdjust="spacingAndGlyphs">204</text>
<text x="966" y="530" font-family="Liberation Sans" font-size="13" font-weight="bold" fill="#ffffff" text-anchor="start" textLength="25.0" lengthAdjust="spacingAndGlyphs">123</text>
<text x="270" y="340" font-family="Liberation Sans" font-size="13" font-weight="bold" fill="#ffffff" text-anchor="start" textLength="25.0" lengthAdjust="spacingAndGlyphs">301</text>
<text x="205" y="360" font-family="Liberation Sans" font-size="13" font-weight="bold" fill="#ffffff" text-anchor="start" textLength="25.0" lengthAdjust="spacingAndGlyphs">302</text>
<text x="192" y="386" font-family="Liberation Sans" font-size="13" font-weight="bold" fill="#ffffff" text-anchor="start" textLength="25.0" lengthAdjust="spacingAndGlyphs">303</text>
<text x="212" y="540" font-family="Liberation Sans" font-size="13" font-weight="bold" fill="#ffffff" text-anchor="start" textLength="25.0" lengthAdjust="spacingAndGlyphs">304</text>
<text x="233" y="576" font-family="Liberation Sans" font-size="13" font-weight="bold" fill="#ffffff" text-anchor="start" textLength="25.0" lengthAdjust="spacingAndGlyphs">126</text>
<text x="268" y="654" font-family="Liberation Sans" font-size="13" font-weight="bold" fill="#ffffff" text-anchor="start" textLength="25.0" lengthAdjust="spacingAndGlyphs">118</text>
<text x="26" y="586" font-family="Liberation Sans" font-size="13" font-weight="bold" fill="#ffffff" text-anchor="start" textLength="25.0" lengthAdjust="spacingAndGlyphs">156</text>
<text x="26" y="642" font-family="Liberation Sans" font-size="13" font-weight="bold" fill="#ffffff" text-anchor="start" textLength="25.0" lengthAdjust="spacingAndGlyphs">127</text>
<text x="632" y="598" font-family="Liberation Sans" font-size="13" font-weight="bold" fill="#ffffff" text-anchor="start" textLength="25.0" lengthAdjust="spacingAndGlyphs">103</text>
<text x="856" y="656" font-family="Liberation Sans" font-size="13" font-weight="bold" fill="#ffffff" text-anchor="start" textLength="25.0" lengthAdjust="spacingAndGlyphs">124</text>
<text x="822" y="713" font-family="Liberation Sans" font-size="13" font-weight="bold" fill="#ffffff" text-anchor="start" textLength="25.0" lengthAdjust="spacingAndGlyphs">102</text>
<text x="505" y="231" font-family="Liberation Sans" font-size="13" font-weight="bold" fill="#ffffff" text-anchor="start" textLength="25.0" lengthAdjust="spacingAndGlyphs">610</text>
<text x="540" y="231" font-family="Liberation Sans" font-size="13" font-weight="bold" fill="#ffffff" text-anchor="start" textLength="25.0" lengthAdjust="spacingAndGlyphs">609</text>
<text x="576" y="231" font-family="Liberation Sans" font-size="13" font-weight="bold" fill="#ffffff" text-anchor="start" textLength="25.0" lengthAdjust="spacingAndGlyphs">608</text>
<text x="612" y="231" font-family="Liberation Sans" font-size="13" font-weight="bold" fill="#ffffff" text-anchor="start" textLength="25.0" lengthAdjust="spacingAndGlyphs">607</text>
<text x="661" y="231" font-family="Liberation Sans" font-size="13" font-weight="bold" fill="#ffffff" text-anchor="start" textLength="25.0" lengthAdjust="spacingAndGlyphs">686</text>
<text x="696" y="231" font-family="Liberation Sans" font-size="13" font-weight="bold" fill="#ffffff" text-anchor="start" textLength="25.0" lengthAdjust="spacingAndGlyphs">685</text>
<text x="733" y="231" font-family="Liberation Sans" font-size="13" font-weight="bold" fill="#ffffff" text-anchor="start" textLength="25.0" lengthAdjust="spacingAndGlyphs">684</text>
<text x="768" y="231" font-family="Liberation Sans" font-size="13" font-weight="bold" fill="#ffffff" text-anchor="start" textLength="25.0" lengthAdjust="spacingAndGlyphs">683</text>
<text x="833" y="231" font-family="Liberation Sans" font-size="13" font-weight="bold" fill="#ffffff" text-anchor="start" textLength="25.0" lengthAdjust="spacingAndGlyphs">601</text>
<text x="350.5" y="218" font-family="Liberation Sans" font-size="12" font-weight="bold" fill="#ffffff" text-anchor="middle" letter-spacing="0.35">400 Линия</text>
<text x="350" y="231" font-family="Liberation Sans" font-size="12" font-weight="bold" fill="#ffffff" text-anchor="middle" >гранулирования</text>
</svg>
</body></html>
